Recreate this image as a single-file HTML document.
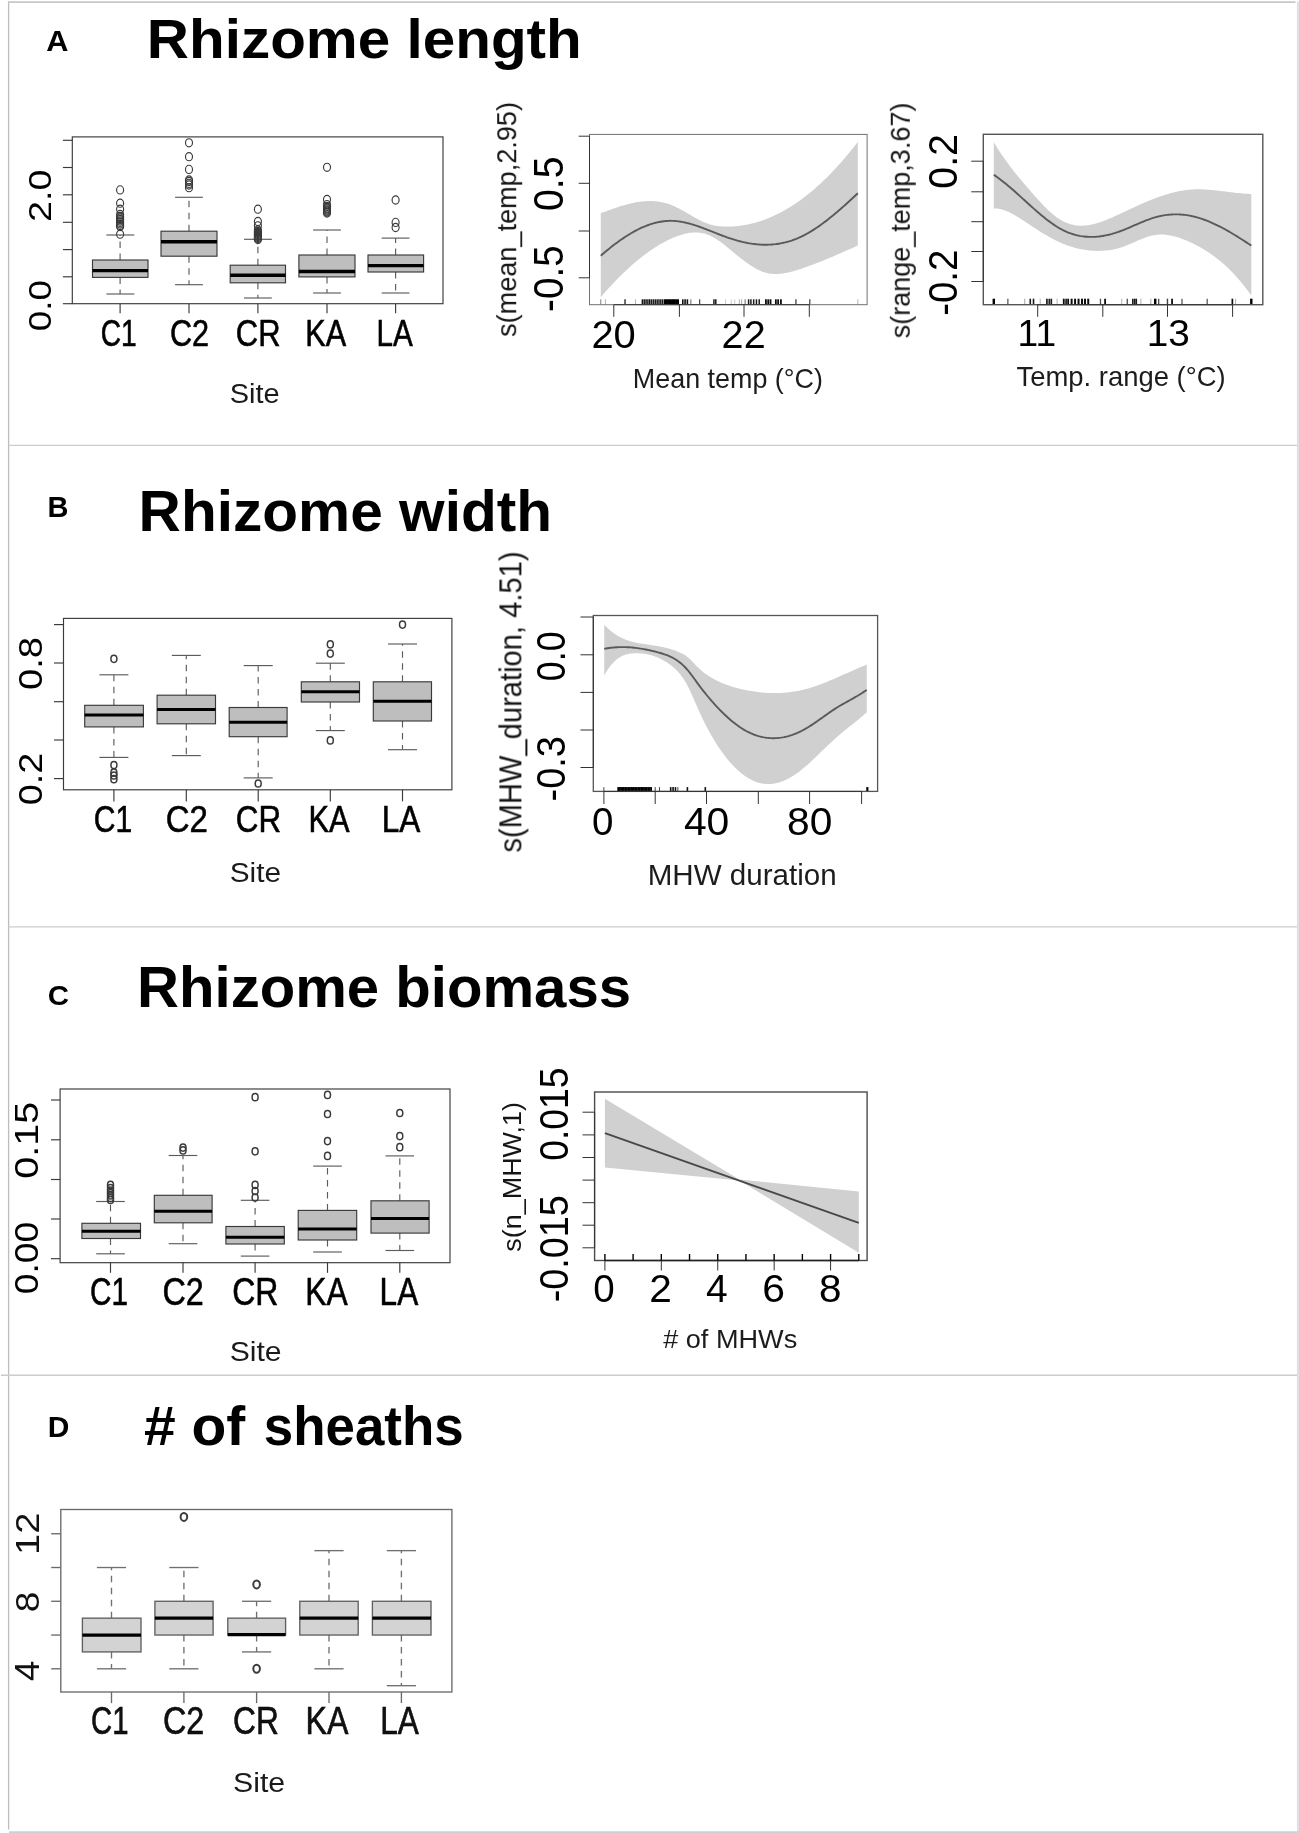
<!DOCTYPE html>
<html><head><meta charset="utf-8"><title>Figure</title>
<style>html,body{margin:0;padding:0;background:#fff}svg{display:block}text{font-family:"Liberation Sans",sans-serif}</style></head><body>
<svg width="1299" height="1833" viewBox="0 0 1299 1833">
<rect width="1299" height="1833" fill="#fff"/>
<g id="borders">
<line x1="8.6" y1="1.2" x2="8.6" y2="1829.5" stroke="#bdbdbd" stroke-width="1.3"/>
<line x1="8" y1="2.1" x2="1295.5" y2="2.1" stroke="#c8c8c8" stroke-width="1.7"/>
<line x1="1298" y1="1.5" x2="1298" y2="1833" stroke="#e0e0e0" stroke-width="2.2"/>
<line x1="9" y1="1832.2" x2="1299" y2="1832.2" stroke="#d0d0d0" stroke-width="1.8"/>
<line x1="8.6" y1="445.3" x2="1297" y2="445.3" stroke="#cccccc" stroke-width="1.3"/>
<line x1="8.6" y1="926.8" x2="1297" y2="926.8" stroke="#cccccc" stroke-width="1.3"/>
<line x1="1" y1="1375.2" x2="1297" y2="1375.2" stroke="#cccccc" stroke-width="1.4"/>
</g>
<g id="titles" style="filter:blur(0.35px)">
<text transform="translate(46.33,50.8) scale(1.0151,1)" font-size="30.29" font-weight="bold" fill="#000">A</text>
<text transform="translate(47.41,517) scale(0.9766,1)" font-size="29.71" font-weight="bold" fill="#000">B</text>
<text transform="translate(47.82,1004.5) scale(1.0566,1)" font-size="27.89" font-weight="bold" fill="#000">C</text>
<text transform="translate(47.66,1437.3) scale(1.0169,1)" font-size="29.42" font-weight="bold" fill="#000">D</text>
<text transform="translate(146.8,58.4) scale(1.0366,1)" font-size="56.38" font-weight="bold" fill="#000">Rhizome length</text>
<text transform="translate(138.59,530.9) scale(1.0187,1)" font-size="57.54" font-weight="bold" fill="#000">Rhizome width</text>
<text transform="translate(137.12,1007.1) scale(1.0254,1)" font-size="56.67" font-weight="bold" fill="#000">Rhizome biomass</text>
<text transform="translate(144.05,1444.7) scale(1.0273,1)" font-size="55.43" font-weight="bold" fill="#000"># of</text>
<text transform="translate(263.85,1444.7) scale(0.9539,1)" font-size="55.43" font-weight="bold" fill="#000">sheaths</text>
</g>
<g style="filter:blur(0.6px)">
<rect x="72.3" y="136.9" width="370.7" height="166.8" fill="none" stroke="#3a3a3a" stroke-width="1.15"/>
<line x1="62.9" y1="140.3" x2="72.3" y2="140.3" stroke="#3a3a3a" stroke-width="1.15"/>
<line x1="62.9" y1="167.5" x2="72.3" y2="167.5" stroke="#3a3a3a" stroke-width="1.15"/>
<line x1="62.9" y1="194.8" x2="72.3" y2="194.8" stroke="#3a3a3a" stroke-width="1.15"/>
<line x1="62.9" y1="222.3" x2="72.3" y2="222.3" stroke="#3a3a3a" stroke-width="1.15"/>
<line x1="62.9" y1="249.6" x2="72.3" y2="249.6" stroke="#3a3a3a" stroke-width="1.15"/>
<line x1="62.9" y1="276.8" x2="72.3" y2="276.8" stroke="#3a3a3a" stroke-width="1.15"/>
<line x1="62.9" y1="303.7" x2="72.3" y2="303.7" stroke="#3a3a3a" stroke-width="1.15"/>
<line x1="120.1" y1="303.7" x2="120.1" y2="313.2" stroke="#3a3a3a" stroke-width="1.15"/>
<line x1="189" y1="303.7" x2="189" y2="313.2" stroke="#3a3a3a" stroke-width="1.15"/>
<line x1="257.9" y1="303.7" x2="257.9" y2="313.2" stroke="#3a3a3a" stroke-width="1.15"/>
<line x1="327" y1="303.7" x2="327" y2="313.2" stroke="#3a3a3a" stroke-width="1.15"/>
<line x1="395.6" y1="303.7" x2="395.6" y2="313.2" stroke="#3a3a3a" stroke-width="1.15"/>
<line x1="120.1" y1="260" x2="120.1" y2="235" stroke="#5c5c5c" stroke-width="1.15" stroke-dasharray="6.5,5.5"/>
<line x1="120.1" y1="277.4" x2="120.1" y2="294" stroke="#5c5c5c" stroke-width="1.15" stroke-dasharray="6.5,5.5"/>
<line x1="106.4" y1="235" x2="134.3" y2="235" stroke="#5c5c5c" stroke-width="1.15"/>
<line x1="106.4" y1="294" x2="134.3" y2="294" stroke="#5c5c5c" stroke-width="1.15"/>
<rect x="92.5" y="260" width="55.5" height="17.4" fill="#bebebe" stroke="#3a3a3a" stroke-width="1.15"/>
<line x1="92.5" y1="270.6" x2="148" y2="270.6" stroke="#000" stroke-width="3.4"/>
<ellipse cx="120.1" cy="189.9" rx="3.5" ry="4.1" fill="none" stroke="#3a3a3a" stroke-width="1.15"/>
<ellipse cx="120.1" cy="203.2" rx="3.5" ry="4.1" fill="none" stroke="#3a3a3a" stroke-width="1.15"/>
<ellipse cx="120.1" cy="209.2" rx="3.5" ry="4.1" fill="none" stroke="#3a3a3a" stroke-width="1.15"/>
<ellipse cx="120.1" cy="214.5" rx="3.5" ry="4.1" fill="none" stroke="#3a3a3a" stroke-width="1.15"/>
<ellipse cx="120.1" cy="216.5" rx="3.5" ry="4.1" fill="none" stroke="#3a3a3a" stroke-width="1.15"/>
<ellipse cx="120.1" cy="218" rx="3.5" ry="4.1" fill="none" stroke="#3a3a3a" stroke-width="1.15"/>
<ellipse cx="120.1" cy="219.5" rx="3.5" ry="4.1" fill="none" stroke="#3a3a3a" stroke-width="1.15"/>
<ellipse cx="120.1" cy="221" rx="3.5" ry="4.1" fill="none" stroke="#3a3a3a" stroke-width="1.15"/>
<ellipse cx="120.1" cy="222.4" rx="3.5" ry="4.1" fill="none" stroke="#3a3a3a" stroke-width="1.15"/>
<ellipse cx="120.1" cy="224" rx="3.5" ry="4.1" fill="none" stroke="#3a3a3a" stroke-width="1.15"/>
<ellipse cx="120.1" cy="225.5" rx="3.5" ry="4.1" fill="none" stroke="#3a3a3a" stroke-width="1.15"/>
<ellipse cx="120.1" cy="226.6" rx="3.5" ry="4.1" fill="none" stroke="#3a3a3a" stroke-width="1.15"/>
<ellipse cx="120.1" cy="234.2" rx="3.5" ry="4.1" fill="none" stroke="#3a3a3a" stroke-width="1.15"/>
<line x1="189" y1="231.2" x2="189" y2="197.3" stroke="#5c5c5c" stroke-width="1.15" stroke-dasharray="6.5,5.5"/>
<line x1="189" y1="256.2" x2="189" y2="284.7" stroke="#5c5c5c" stroke-width="1.15" stroke-dasharray="6.5,5.5"/>
<line x1="175.1" y1="197.3" x2="202.9" y2="197.3" stroke="#5c5c5c" stroke-width="1.15"/>
<line x1="175.1" y1="284.7" x2="202.9" y2="284.7" stroke="#5c5c5c" stroke-width="1.15"/>
<rect x="161" y="231.2" width="56" height="25" fill="#bebebe" stroke="#3a3a3a" stroke-width="1.15"/>
<line x1="161" y1="241.8" x2="217" y2="241.8" stroke="#000" stroke-width="3.4"/>
<ellipse cx="189" cy="142.8" rx="3.5" ry="4.1" fill="none" stroke="#3a3a3a" stroke-width="1.15"/>
<ellipse cx="189" cy="156.7" rx="3.5" ry="4.1" fill="none" stroke="#3a3a3a" stroke-width="1.15"/>
<ellipse cx="189" cy="169.4" rx="3.5" ry="4.1" fill="none" stroke="#3a3a3a" stroke-width="1.15"/>
<ellipse cx="189" cy="180" rx="3.5" ry="4.1" fill="none" stroke="#3a3a3a" stroke-width="1.15"/>
<ellipse cx="189" cy="181.5" rx="3.5" ry="4.1" fill="none" stroke="#3a3a3a" stroke-width="1.15"/>
<ellipse cx="189" cy="183.4" rx="3.5" ry="4.1" fill="none" stroke="#3a3a3a" stroke-width="1.15"/>
<ellipse cx="189" cy="185" rx="3.5" ry="4.1" fill="none" stroke="#3a3a3a" stroke-width="1.15"/>
<ellipse cx="189" cy="187.7" rx="3.5" ry="4.1" fill="none" stroke="#3a3a3a" stroke-width="1.15"/>
<line x1="257.9" y1="265.2" x2="257.9" y2="239.3" stroke="#5c5c5c" stroke-width="1.15" stroke-dasharray="6.5,5.5"/>
<line x1="257.9" y1="282.8" x2="257.9" y2="298" stroke="#5c5c5c" stroke-width="1.15" stroke-dasharray="6.5,5.5"/>
<line x1="244" y1="239.3" x2="271.8" y2="239.3" stroke="#5c5c5c" stroke-width="1.15"/>
<line x1="244" y1="298" x2="271.8" y2="298" stroke="#5c5c5c" stroke-width="1.15"/>
<rect x="230.2" y="265.2" width="55.3" height="17.6" fill="#bebebe" stroke="#3a3a3a" stroke-width="1.15"/>
<line x1="230.2" y1="275.2" x2="285.5" y2="275.2" stroke="#000" stroke-width="3.4"/>
<ellipse cx="257.9" cy="209.2" rx="3.5" ry="4.1" fill="none" stroke="#3a3a3a" stroke-width="1.15"/>
<ellipse cx="257.9" cy="221.5" rx="3.5" ry="4.1" fill="none" stroke="#3a3a3a" stroke-width="1.15"/>
<ellipse cx="257.9" cy="225.8" rx="3.5" ry="4.1" fill="none" stroke="#3a3a3a" stroke-width="1.15"/>
<ellipse cx="257.9" cy="230" rx="3.5" ry="4.1" fill="none" stroke="#3a3a3a" stroke-width="1.15"/>
<ellipse cx="257.9" cy="231.5" rx="3.5" ry="4.1" fill="none" stroke="#3a3a3a" stroke-width="1.15"/>
<ellipse cx="257.9" cy="232.5" rx="3.5" ry="4.1" fill="none" stroke="#3a3a3a" stroke-width="1.15"/>
<ellipse cx="257.9" cy="233.5" rx="3.5" ry="4.1" fill="none" stroke="#3a3a3a" stroke-width="1.15"/>
<ellipse cx="257.9" cy="234.5" rx="3.5" ry="4.1" fill="none" stroke="#3a3a3a" stroke-width="1.15"/>
<ellipse cx="257.9" cy="235.5" rx="3.5" ry="4.1" fill="none" stroke="#3a3a3a" stroke-width="1.15"/>
<ellipse cx="257.9" cy="236.5" rx="3.5" ry="4.1" fill="none" stroke="#3a3a3a" stroke-width="1.15"/>
<ellipse cx="257.9" cy="237.5" rx="3.5" ry="4.1" fill="none" stroke="#3a3a3a" stroke-width="1.15"/>
<ellipse cx="257.9" cy="238.5" rx="3.5" ry="4.1" fill="none" stroke="#3a3a3a" stroke-width="1.15"/>
<ellipse cx="257.9" cy="239.5" rx="3.5" ry="4.1" fill="none" stroke="#3a3a3a" stroke-width="1.15"/>
<line x1="327" y1="255" x2="327" y2="230" stroke="#5c5c5c" stroke-width="1.15" stroke-dasharray="6.5,5.5"/>
<line x1="327" y1="276.9" x2="327" y2="293" stroke="#5c5c5c" stroke-width="1.15" stroke-dasharray="6.5,5.5"/>
<line x1="313.1" y1="230" x2="340.9" y2="230" stroke="#5c5c5c" stroke-width="1.15"/>
<line x1="313.1" y1="293" x2="340.9" y2="293" stroke="#5c5c5c" stroke-width="1.15"/>
<rect x="298.9" y="255" width="56.1" height="21.9" fill="#bebebe" stroke="#3a3a3a" stroke-width="1.15"/>
<line x1="298.9" y1="271.5" x2="355" y2="271.5" stroke="#000" stroke-width="3.4"/>
<ellipse cx="327" cy="167.3" rx="3.5" ry="4.1" fill="none" stroke="#3a3a3a" stroke-width="1.15"/>
<ellipse cx="327" cy="199.5" rx="3.5" ry="4.1" fill="none" stroke="#3a3a3a" stroke-width="1.15"/>
<ellipse cx="327" cy="204.6" rx="3.5" ry="4.1" fill="none" stroke="#3a3a3a" stroke-width="1.15"/>
<ellipse cx="327" cy="206.5" rx="3.5" ry="4.1" fill="none" stroke="#3a3a3a" stroke-width="1.15"/>
<ellipse cx="327" cy="208" rx="3.5" ry="4.1" fill="none" stroke="#3a3a3a" stroke-width="1.15"/>
<ellipse cx="327" cy="208.8" rx="3.5" ry="4.1" fill="none" stroke="#3a3a3a" stroke-width="1.15"/>
<ellipse cx="327" cy="210" rx="3.5" ry="4.1" fill="none" stroke="#3a3a3a" stroke-width="1.15"/>
<ellipse cx="327" cy="211" rx="3.5" ry="4.1" fill="none" stroke="#3a3a3a" stroke-width="1.15"/>
<ellipse cx="327" cy="212" rx="3.5" ry="4.1" fill="none" stroke="#3a3a3a" stroke-width="1.15"/>
<ellipse cx="327" cy="213" rx="3.5" ry="4.1" fill="none" stroke="#3a3a3a" stroke-width="1.15"/>
<line x1="395.6" y1="255" x2="395.6" y2="238.1" stroke="#5c5c5c" stroke-width="1.15" stroke-dasharray="6.5,5.5"/>
<line x1="395.6" y1="272" x2="395.6" y2="293" stroke="#5c5c5c" stroke-width="1.15" stroke-dasharray="6.5,5.5"/>
<line x1="381.7" y1="238.1" x2="409.5" y2="238.1" stroke="#5c5c5c" stroke-width="1.15"/>
<line x1="381.7" y1="293" x2="409.5" y2="293" stroke="#5c5c5c" stroke-width="1.15"/>
<rect x="368" y="255" width="55.6" height="17" fill="#bebebe" stroke="#3a3a3a" stroke-width="1.15"/>
<line x1="368" y1="265.6" x2="423.6" y2="265.6" stroke="#000" stroke-width="3.4"/>
<ellipse cx="395.6" cy="200" rx="3.5" ry="4.1" fill="none" stroke="#3a3a3a" stroke-width="1.15"/>
<ellipse cx="395.6" cy="222.4" rx="3.5" ry="4.1" fill="none" stroke="#3a3a3a" stroke-width="1.15"/>
<ellipse cx="395.6" cy="227.5" rx="3.5" ry="4.1" fill="none" stroke="#3a3a3a" stroke-width="1.15"/>
<text transform="translate(50.9,221.89) rotate(-90) scale(1.1942,1)" font-size="31.57" fill="#000">2.0</text>
<text transform="translate(50.9,331.17) rotate(-90) scale(1.1634,1)" font-size="31.57" fill="#000">0.0</text>
<text transform="translate(100.79,345.7) scale(0.7663,1)" font-size="36.71" fill="#000" stroke="#000" stroke-width="0.55" vector-effect="non-scaling-stroke">C1</text>
<text transform="translate(169.97,345.7) scale(0.8345,1)" font-size="36.71" fill="#000" stroke="#000" stroke-width="0.55" vector-effect="non-scaling-stroke">C2</text>
<text transform="translate(235.85,345.7) scale(0.8424,1)" font-size="36.71" fill="#000" stroke="#000" stroke-width="0.55" vector-effect="non-scaling-stroke">CR</text>
<text transform="translate(305.35,345.7) scale(0.8346,1)" font-size="36.71" fill="#000" stroke="#000" stroke-width="0.55" vector-effect="non-scaling-stroke">KA</text>
<text transform="translate(376.43,345.7) scale(0.8076,1)" font-size="36.71" fill="#000" stroke="#000" stroke-width="0.55" vector-effect="non-scaling-stroke">LA</text>
</g>
<text transform="translate(229.7,403.1) scale(1.0497,1)" font-size="27.59" fill="#1a1a1a" style="filter:blur(0.4px)">Site</text>
<g style="filter:blur(0.5px)">
<polygon points="600.79,213.2 602.4,212.6 604.02,211.99 605.64,211.4 607.25,210.8 608.87,210.21 610.48,209.63 612.1,209.06 613.72,208.5 615.33,207.94 616.95,207.4 618.57,206.87 620.18,206.36 621.8,205.86 623.42,205.38 625.03,204.92 626.65,204.48 628.27,204.06 629.88,203.66 631.5,203.28 633.12,202.93 634.73,202.6 636.35,202.3 637.97,202.03 639.58,201.79 641.2,201.59 642.82,201.41 644.43,201.27 646.05,201.16 647.67,201.08 649.28,201.05 650.9,201.05 652.52,201.1 654.13,201.18 655.75,201.31 657.37,201.48 658.98,201.7 660.6,201.96 662.22,202.27 663.83,202.63 665.45,203.04 667.07,203.5 668.68,204.01 670.3,204.58 671.92,205.2 673.53,205.88 675.15,206.61 676.77,207.38 678.38,208.2 680,209.06 681.62,209.94 683.23,210.85 684.85,211.78 686.47,212.72 688.08,213.67 689.7,214.62 691.32,215.57 692.93,216.51 694.55,217.43 696.17,218.34 697.78,219.21 699.4,220.06 701.02,220.86 702.63,221.63 704.25,222.34 705.87,223 707.48,223.6 709.1,224.13 710.72,224.61 712.33,225.03 713.95,225.39 715.57,225.7 717.18,225.96 718.8,226.17 720.42,226.34 722.03,226.47 723.65,226.56 725.27,226.61 726.88,226.62 728.5,226.61 730.12,226.57 731.73,226.51 733.35,226.41 734.97,226.3 736.58,226.16 738.2,225.99 739.82,225.79 741.43,225.58 743.05,225.33 744.67,225.06 746.28,224.77 747.9,224.45 749.52,224.1 751.13,223.73 752.75,223.34 754.36,222.92 755.98,222.47 757.6,222 759.21,221.5 760.83,220.97 762.45,220.42 764.06,219.85 765.68,219.25 767.3,218.62 768.91,217.97 770.53,217.29 772.15,216.58 773.76,215.85 775.38,215.1 777,214.32 778.61,213.51 780.23,212.68 781.85,211.82 783.46,210.93 785.08,210.02 786.7,209.08 788.31,208.12 789.93,207.13 791.55,206.12 793.16,205.08 794.78,204.01 796.4,202.92 798.01,201.8 799.63,200.65 801.25,199.48 802.86,198.28 804.48,197.06 806.1,195.81 807.71,194.53 809.33,193.23 810.95,191.9 812.56,190.55 814.18,189.17 815.8,187.76 817.41,186.33 819.03,184.87 820.65,183.38 822.26,181.87 823.88,180.33 825.5,178.76 827.11,177.17 828.73,175.55 830.35,173.91 831.96,172.23 833.58,170.54 835.2,168.81 836.81,167.06 838.43,165.28 840.05,163.48 841.66,161.65 843.28,159.79 844.9,157.9 846.51,155.99 848.13,154.06 849.75,152.09 851.36,150.1 852.98,148.08 854.6,146.04 856.21,143.96 857.83,141.87 857.83,245.55 856.21,246.27 854.6,246.99 852.98,247.71 851.36,248.43 849.75,249.15 848.13,249.86 846.51,250.58 844.9,251.29 843.28,252 841.66,252.71 840.05,253.42 838.43,254.12 836.81,254.82 835.2,255.52 833.58,256.21 831.96,256.9 830.35,257.58 828.73,258.25 827.11,258.93 825.5,259.59 823.88,260.25 822.26,260.91 820.65,261.55 819.03,262.19 817.41,262.82 815.8,263.45 814.18,264.07 812.56,264.68 810.95,265.28 809.33,265.87 807.71,266.45 806.1,267.02 804.48,267.58 802.86,268.14 801.25,268.68 799.63,269.21 798.01,269.73 796.4,270.24 794.78,270.73 793.16,271.19 791.55,271.64 789.93,272.05 788.31,272.44 786.7,272.79 785.08,273.1 783.46,273.38 781.85,273.61 780.23,273.79 778.61,273.92 777,273.99 775.38,274.01 773.76,273.97 772.15,273.86 770.53,273.68 768.91,273.44 767.3,273.11 765.68,272.72 764.06,272.23 762.45,271.67 760.83,271.03 759.21,270.32 757.6,269.54 755.98,268.69 754.36,267.78 752.75,266.81 751.13,265.8 749.52,264.73 747.9,263.61 746.28,262.46 744.67,261.27 743.05,260.04 741.43,258.79 739.82,257.51 738.2,256.21 736.58,254.9 734.97,253.57 733.35,252.23 731.73,250.89 730.12,249.55 728.5,248.21 726.88,246.89 725.27,245.58 723.65,244.3 722.03,243.06 720.42,241.86 718.8,240.72 717.18,239.64 715.57,238.62 713.95,237.67 712.33,236.79 710.72,235.99 709.1,235.26 707.48,234.63 705.87,234.07 704.25,233.61 702.63,233.22 701.02,232.92 699.4,232.7 697.78,232.55 696.17,232.47 694.55,232.47 692.93,232.53 691.32,232.66 689.7,232.85 688.08,233.1 686.47,233.41 684.85,233.77 683.23,234.18 681.62,234.64 680,235.15 678.38,235.7 676.77,236.3 675.15,236.93 673.53,237.6 671.92,238.3 670.3,239.04 668.68,239.8 667.07,240.6 665.45,241.43 663.83,242.28 662.22,243.17 660.6,244.09 658.98,245.04 657.37,246.02 655.75,247.02 654.13,248.06 652.52,249.13 650.9,250.22 649.28,251.34 647.67,252.49 646.05,253.67 644.43,254.88 642.82,256.12 641.2,257.38 639.58,258.67 637.97,259.98 636.35,261.33 634.73,262.7 633.12,264.09 631.5,265.51 629.88,266.96 628.27,268.43 626.65,269.93 625.03,271.46 623.42,273 621.8,274.58 620.18,276.17 618.57,277.8 616.95,279.44 615.33,281.11 613.72,282.8 612.1,284.52 610.48,286.26 608.87,288.02 607.25,289.81 605.64,291.62 604.02,293.45 602.4,295.3 600.79,297.17" fill="#d0d0d0"/>
<polyline points="600.79,255.73 602.4,254.33 604.02,252.95 605.64,251.58 607.25,250.24 608.87,248.92 610.48,247.62 612.1,246.34 613.72,245.09 615.33,243.86 616.95,242.65 618.57,241.47 620.18,240.32 621.8,239.19 623.42,238.09 625.03,237.02 626.65,235.97 628.27,234.96 629.88,233.97 631.5,233.01 633.12,232.09 634.73,231.19 636.35,230.33 637.97,229.5 639.58,228.71 641.2,227.95 642.82,227.22 644.43,226.53 646.05,225.88 647.67,225.26 649.28,224.68 650.9,224.13 652.52,223.63 654.13,223.17 655.75,222.74 657.37,222.36 658.98,222.01 660.6,221.71 662.22,221.45 663.83,221.24 665.45,221.07 667.07,220.94 668.68,220.86 670.3,220.82 671.92,220.83 673.53,220.89 675.15,220.99 676.77,221.14 678.38,221.32 680,221.55 681.62,221.82 683.23,222.13 684.85,222.46 686.47,222.84 688.08,223.24 689.7,223.67 691.32,224.13 692.93,224.61 694.55,225.12 696.17,225.65 697.78,226.2 699.4,226.76 701.02,227.34 702.63,227.94 704.25,228.55 705.87,229.17 707.48,229.79 709.1,230.43 710.72,231.07 712.33,231.71 713.95,232.35 715.57,232.99 717.18,233.63 718.8,234.26 720.42,234.89 722.03,235.51 723.65,236.12 725.27,236.72 726.88,237.3 728.5,237.87 730.12,238.42 731.73,238.95 733.35,239.46 734.97,239.94 736.58,240.41 738.2,240.86 739.82,241.28 741.43,241.69 743.05,242.07 744.67,242.42 746.28,242.76 747.9,243.07 749.52,243.35 751.13,243.61 752.75,243.84 754.36,244.05 755.98,244.23 757.6,244.38 759.21,244.51 760.83,244.61 762.45,244.68 764.06,244.72 765.68,244.73 767.3,244.71 768.91,244.66 770.53,244.58 772.15,244.47 773.76,244.33 775.38,244.16 777,243.95 778.61,243.71 780.23,243.44 781.85,243.13 783.46,242.79 785.08,242.42 786.7,242.01 788.31,241.56 789.93,241.08 791.55,240.56 793.16,240 794.78,239.41 796.4,238.78 798.01,238.11 799.63,237.4 801.25,236.65 802.86,235.86 804.48,235.04 806.1,234.18 807.71,233.28 809.33,232.35 810.95,231.39 812.56,230.39 814.18,229.36 815.8,228.3 817.41,227.22 819.03,226.1 820.65,224.96 822.26,223.79 823.88,222.59 825.5,221.37 827.11,220.13 828.73,218.86 830.35,217.57 831.96,216.27 833.58,214.94 835.2,213.59 836.81,212.22 838.43,210.84 840.05,209.45 841.66,208.03 843.28,206.61 844.9,205.17 846.51,203.72 848.13,202.25 849.75,200.78 851.36,199.3 852.98,197.81 854.6,196.31 856.21,194.81 857.83,193.3" fill="none" stroke="#5a5a5a" stroke-width="1.9" stroke-linejoin="round"/>
<line x1="600.79" y1="299.3" x2="600.79" y2="304.7" stroke="#000" stroke-width="1" opacity="0.5"/>
<line x1="605.4" y1="299.3" x2="605.4" y2="304.7" stroke="#000" stroke-width="1" opacity="0.3"/>
<line x1="625.03" y1="299.3" x2="625.03" y2="304.7" stroke="#000" stroke-width="1.3" opacity="0.9"/>
<line x1="635.43" y1="299.3" x2="635.43" y2="304.7" stroke="#000" stroke-width="1" opacity="0.3"/>
<line x1="642.36" y1="299.3" x2="642.36" y2="304.7" stroke="#000" stroke-width="1.5" opacity="0.9"/>
<line x1="644.2" y1="299.3" x2="644.2" y2="304.7" stroke="#000" stroke-width="1.5" opacity="0.9"/>
<line x1="646.05" y1="299.3" x2="646.05" y2="304.7" stroke="#000" stroke-width="1.5" opacity="0.9"/>
<line x1="647.9" y1="299.3" x2="647.9" y2="304.7" stroke="#000" stroke-width="1.5" opacity="0.9"/>
<line x1="649.75" y1="299.3" x2="649.75" y2="304.7" stroke="#000" stroke-width="1.5" opacity="0.9"/>
<line x1="651.59" y1="299.3" x2="651.59" y2="304.7" stroke="#000" stroke-width="1.5" opacity="0.9"/>
<line x1="653.44" y1="299.3" x2="653.44" y2="304.7" stroke="#000" stroke-width="1.5" opacity="0.9"/>
<line x1="655.29" y1="299.3" x2="655.29" y2="304.7" stroke="#000" stroke-width="1.5" opacity="0.9"/>
<line x1="657.14" y1="299.3" x2="657.14" y2="304.7" stroke="#000" stroke-width="1.5" opacity="0.9"/>
<line x1="658.98" y1="299.3" x2="658.98" y2="304.7" stroke="#000" stroke-width="1.5" opacity="0.9"/>
<line x1="660.83" y1="299.3" x2="660.83" y2="304.7" stroke="#000" stroke-width="1.5" opacity="0.9"/>
<line x1="662.68" y1="299.3" x2="662.68" y2="304.7" stroke="#000" stroke-width="1.5" opacity="0.9"/>
<line x1="664.99" y1="299.3" x2="664.99" y2="304.7" stroke="#000" stroke-width="2.2" opacity="1"/>
<line x1="666.61" y1="299.3" x2="666.61" y2="304.7" stroke="#000" stroke-width="2.2" opacity="1"/>
<line x1="668.22" y1="299.3" x2="668.22" y2="304.7" stroke="#000" stroke-width="2.2" opacity="1"/>
<line x1="669.84" y1="299.3" x2="669.84" y2="304.7" stroke="#000" stroke-width="2.2" opacity="1"/>
<line x1="671.45" y1="299.3" x2="671.45" y2="304.7" stroke="#000" stroke-width="2.2" opacity="1"/>
<line x1="673.07" y1="299.3" x2="673.07" y2="304.7" stroke="#000" stroke-width="2.2" opacity="1"/>
<line x1="674.69" y1="299.3" x2="674.69" y2="304.7" stroke="#000" stroke-width="2.2" opacity="1"/>
<line x1="676.3" y1="299.3" x2="676.3" y2="304.7" stroke="#000" stroke-width="2.2" opacity="1"/>
<line x1="677.92" y1="299.3" x2="677.92" y2="304.7" stroke="#000" stroke-width="2.2" opacity="1"/>
<line x1="682.77" y1="299.3" x2="682.77" y2="304.7" stroke="#000" stroke-width="1.6" opacity="0.95"/>
<line x1="685.08" y1="299.3" x2="685.08" y2="304.7" stroke="#000" stroke-width="1.6" opacity="0.95"/>
<line x1="687.39" y1="299.3" x2="687.39" y2="304.7" stroke="#000" stroke-width="1.6" opacity="0.95"/>
<line x1="690.85" y1="299.3" x2="690.85" y2="304.7" stroke="#000" stroke-width="1" opacity="0.6"/>
<line x1="699.63" y1="299.3" x2="699.63" y2="304.7" stroke="#000" stroke-width="1.3" opacity="0.7"/>
<line x1="713.95" y1="299.3" x2="713.95" y2="304.7" stroke="#000" stroke-width="1.5" opacity="0.9"/>
<line x1="715.8" y1="299.3" x2="715.8" y2="304.7" stroke="#000" stroke-width="1.5" opacity="0.9"/>
<line x1="725.5" y1="299.3" x2="725.5" y2="304.7" stroke="#000" stroke-width="1" opacity="0.2"/>
<line x1="731.27" y1="299.3" x2="731.27" y2="304.7" stroke="#000" stroke-width="1" opacity="0.2"/>
<line x1="734.73" y1="299.3" x2="734.73" y2="304.7" stroke="#000" stroke-width="1" opacity="0.2"/>
<line x1="739.35" y1="299.3" x2="739.35" y2="304.7" stroke="#000" stroke-width="1" opacity="0.3"/>
<line x1="741.66" y1="299.3" x2="741.66" y2="304.7" stroke="#000" stroke-width="1" opacity="0.35"/>
<line x1="745.13" y1="299.3" x2="745.13" y2="304.7" stroke="#000" stroke-width="1" opacity="0.6"/>
<line x1="748.59" y1="299.3" x2="748.59" y2="304.7" stroke="#000" stroke-width="1.5" opacity="0.9"/>
<line x1="750.9" y1="299.3" x2="750.9" y2="304.7" stroke="#000" stroke-width="1.5" opacity="0.9"/>
<line x1="753.67" y1="299.3" x2="753.67" y2="304.7" stroke="#000" stroke-width="1.5" opacity="0.9"/>
<line x1="756.44" y1="299.3" x2="756.44" y2="304.7" stroke="#000" stroke-width="1.5" opacity="0.9"/>
<line x1="759.21" y1="299.3" x2="759.21" y2="304.7" stroke="#000" stroke-width="1.5" opacity="0.9"/>
<line x1="765.91" y1="299.3" x2="765.91" y2="304.7" stroke="#000" stroke-width="1.8" opacity="0.95"/>
<line x1="768.22" y1="299.3" x2="768.22" y2="304.7" stroke="#000" stroke-width="1.8" opacity="0.95"/>
<line x1="770.53" y1="299.3" x2="770.53" y2="304.7" stroke="#000" stroke-width="1.8" opacity="0.95"/>
<line x1="775.84" y1="299.3" x2="775.84" y2="304.7" stroke="#000" stroke-width="1.8" opacity="0.95"/>
<line x1="778.15" y1="299.3" x2="778.15" y2="304.7" stroke="#000" stroke-width="1.8" opacity="0.95"/>
<line x1="780.92" y1="299.3" x2="780.92" y2="304.7" stroke="#000" stroke-width="1.8" opacity="0.95"/>
<line x1="795.94" y1="299.3" x2="795.94" y2="304.7" stroke="#000" stroke-width="1.3" opacity="0.75"/>
<line x1="809.79" y1="299.3" x2="809.79" y2="304.7" stroke="#000" stroke-width="1.3" opacity="0.7"/>
<line x1="857.83" y1="299.3" x2="857.83" y2="304.7" stroke="#000" stroke-width="1" opacity="0.3"/>
<rect x="589.5" y="134.4" width="277.6" height="170.3" fill="none" stroke="#707070" stroke-width="1"/>
<line x1="589.5" y1="136.2" x2="589.5" y2="277.8" stroke="#333" stroke-width="1"/>
<line x1="578.7" y1="136.2" x2="589.5" y2="136.2" stroke="#333" stroke-width="1"/>
<line x1="578.7" y1="183.3" x2="589.5" y2="183.3" stroke="#333" stroke-width="1"/>
<line x1="578.7" y1="231" x2="589.5" y2="231" stroke="#333" stroke-width="1"/>
<line x1="578.7" y1="277.8" x2="589.5" y2="277.8" stroke="#333" stroke-width="1"/>
<line x1="613.8" y1="304.7" x2="809.3" y2="304.7" stroke="#333" stroke-width="1"/>
<line x1="613.8" y1="304.7" x2="613.8" y2="316.8" stroke="#333" stroke-width="1"/>
<line x1="679.4" y1="304.7" x2="679.4" y2="316.8" stroke="#333" stroke-width="1"/>
<line x1="744" y1="304.7" x2="744" y2="316.8" stroke="#333" stroke-width="1"/>
<line x1="809.3" y1="304.7" x2="809.3" y2="316.8" stroke="#333" stroke-width="1"/>
<text transform="translate(563,211.07) rotate(-90) scale(0.9248,1)" font-size="42.43" fill="#000">0.5</text>
<text transform="translate(563,311.94) rotate(-90) scale(0.9110,1)" font-size="42.43" fill="#000">-0.5</text>
<text transform="translate(516.2,336.91) rotate(-90) scale(0.9584,1)" font-size="28.29" fill="#151515">s(mean_temp,2.95)</text>
<text transform="translate(591.4,348) scale(1.0386,1)" font-size="38.42" fill="#000">20</text>
<text transform="translate(721.62,348) scale(1.0309,1)" font-size="38.42" fill="#000">22</text>
</g>
<text transform="translate(632.85,388.2) scale(0.9980,1)" font-size="26.96" fill="#1c1c1c" style="filter:blur(0.4px)">Mean temp (°C)</text>
<g style="filter:blur(0.5px)">
<polygon points="993.79,142.15 995.41,144.85 997.03,147.48 998.65,150.04 1000.27,152.52 1001.89,154.94 1003.5,157.31 1005.12,159.61 1006.74,161.86 1008.36,164.06 1009.98,166.22 1011.6,168.33 1013.22,170.4 1014.84,172.44 1016.46,174.44 1018.08,176.42 1019.7,178.37 1021.32,180.31 1022.94,182.22 1024.56,184.13 1026.18,186.02 1027.8,187.9 1029.42,189.79 1031.04,191.66 1032.66,193.53 1034.28,195.38 1035.9,197.21 1037.51,199.01 1039.13,200.79 1040.75,202.54 1042.37,204.25 1043.99,205.93 1045.61,207.55 1047.23,209.14 1048.85,210.66 1050.47,212.14 1052.09,213.55 1053.71,214.89 1055.33,216.17 1056.95,217.38 1058.57,218.51 1060.19,219.55 1061.81,220.52 1063.43,221.39 1065.05,222.17 1066.67,222.87 1068.29,223.49 1069.91,224.02 1071.53,224.47 1073.14,224.85 1074.76,225.15 1076.38,225.38 1078,225.54 1079.62,225.64 1081.24,225.67 1082.86,225.64 1084.48,225.55 1086.1,225.4 1087.72,225.2 1089.34,224.95 1090.96,224.65 1092.58,224.3 1094.2,223.91 1095.82,223.48 1097.44,223.01 1099.06,222.5 1100.68,221.96 1102.3,221.38 1103.92,220.78 1105.54,220.15 1107.15,219.5 1108.77,218.82 1110.39,218.13 1112.01,217.42 1113.63,216.69 1115.25,215.96 1116.87,215.21 1118.49,214.46 1120.11,213.71 1121.73,212.95 1123.35,212.19 1124.97,211.43 1126.59,210.68 1128.21,209.92 1129.83,209.17 1131.45,208.42 1133.07,207.67 1134.69,206.93 1136.31,206.19 1137.93,205.46 1139.55,204.74 1141.17,204.02 1142.78,203.31 1144.4,202.61 1146.02,201.92 1147.64,201.24 1149.26,200.57 1150.88,199.92 1152.5,199.27 1154.12,198.64 1155.74,198.03 1157.36,197.43 1158.98,196.84 1160.6,196.27 1162.22,195.72 1163.84,195.18 1165.46,194.66 1167.08,194.17 1168.7,193.69 1170.32,193.23 1171.94,192.8 1173.56,192.39 1175.18,192 1176.79,191.63 1178.41,191.29 1180.03,190.97 1181.65,190.68 1183.27,190.42 1184.89,190.18 1186.51,189.97 1188.13,189.79 1189.75,189.64 1191.37,189.52 1192.99,189.43 1194.61,189.37 1196.23,189.33 1197.85,189.32 1199.47,189.33 1201.09,189.36 1202.71,189.41 1204.33,189.48 1205.95,189.57 1207.57,189.68 1209.19,189.8 1210.8,189.93 1212.42,190.08 1214.04,190.24 1215.66,190.41 1217.28,190.59 1218.9,190.77 1220.52,190.96 1222.14,191.16 1223.76,191.36 1225.38,191.56 1227,191.76 1228.62,191.96 1230.24,192.16 1231.86,192.35 1233.48,192.54 1235.1,192.73 1236.72,192.9 1238.34,193.07 1239.96,193.23 1241.58,193.37 1243.2,193.51 1244.82,193.63 1246.43,193.73 1248.05,193.82 1249.67,193.89 1251.29,193.94 1251.29,295.57 1249.67,293.29 1248.05,291.06 1246.43,288.89 1244.82,286.78 1243.2,284.73 1241.58,282.73 1239.96,280.78 1238.34,278.89 1236.72,277.05 1235.1,275.26 1233.48,273.52 1231.86,271.83 1230.24,270.19 1228.62,268.6 1227,267.05 1225.38,265.55 1223.76,264.09 1222.14,262.68 1220.52,261.31 1218.9,259.98 1217.28,258.69 1215.66,257.44 1214.04,256.23 1212.42,255.06 1210.8,253.92 1209.19,252.82 1207.57,251.75 1205.95,250.72 1204.33,249.72 1202.71,248.75 1201.09,247.81 1199.47,246.91 1197.85,246.03 1196.23,245.18 1194.61,244.35 1192.99,243.56 1191.37,242.78 1189.75,242.03 1188.13,241.31 1186.51,240.61 1184.89,239.93 1183.27,239.29 1181.65,238.67 1180.03,238.09 1178.41,237.54 1176.79,237.04 1175.18,236.57 1173.56,236.14 1171.94,235.76 1170.32,235.43 1168.7,235.14 1167.08,234.91 1165.46,234.73 1163.84,234.61 1162.22,234.54 1160.6,234.53 1158.98,234.59 1157.36,234.71 1155.74,234.9 1154.12,235.15 1152.5,235.48 1150.88,235.87 1149.26,236.31 1147.64,236.81 1146.02,237.35 1144.4,237.93 1142.78,238.55 1141.17,239.2 1139.55,239.87 1137.93,240.56 1136.31,241.26 1134.69,241.97 1133.07,242.69 1131.45,243.4 1129.83,244.1 1128.21,244.78 1126.59,245.45 1124.97,246.09 1123.35,246.7 1121.73,247.27 1120.11,247.8 1118.49,248.29 1116.87,248.72 1115.25,249.12 1113.63,249.47 1112.01,249.77 1110.39,250.04 1108.77,250.27 1107.15,250.46 1105.54,250.61 1103.92,250.73 1102.3,250.82 1100.68,250.87 1099.06,250.89 1097.44,250.88 1095.82,250.85 1094.2,250.78 1092.58,250.69 1090.96,250.57 1089.34,250.42 1087.72,250.24 1086.1,250.04 1084.48,249.8 1082.86,249.53 1081.24,249.24 1079.62,248.91 1078,248.55 1076.38,248.16 1074.76,247.74 1073.14,247.29 1071.53,246.81 1069.91,246.29 1068.29,245.74 1066.67,245.16 1065.05,244.55 1063.43,243.91 1061.81,243.23 1060.19,242.51 1058.57,241.77 1056.95,240.99 1055.33,240.19 1053.71,239.36 1052.09,238.5 1050.47,237.62 1048.85,236.72 1047.23,235.79 1045.61,234.84 1043.99,233.88 1042.37,232.89 1040.75,231.89 1039.13,230.88 1037.51,229.85 1035.9,228.81 1034.28,227.76 1032.66,226.7 1031.04,225.64 1029.42,224.56 1027.8,223.49 1026.18,222.41 1024.56,221.33 1022.94,220.26 1021.32,219.2 1019.7,218.16 1018.08,217.14 1016.46,216.15 1014.84,215.2 1013.22,214.29 1011.6,213.43 1009.98,212.61 1008.36,211.85 1006.74,211.16 1005.12,210.53 1003.5,209.97 1001.89,209.5 1000.27,209.11 998.65,208.8 997.03,208.6 995.41,208.49 993.79,208.49" fill="#d0d0d0"/>
<polyline points="993.79,174.8 995.41,175.89 997.03,177.03 998.65,178.2 1000.27,179.4 1001.89,180.64 1003.5,181.92 1005.12,183.22 1006.74,184.55 1008.36,185.9 1009.98,187.28 1011.6,188.68 1013.22,190.09 1014.84,191.52 1016.46,192.97 1018.08,194.42 1019.7,195.89 1021.32,197.36 1022.94,198.84 1024.56,200.31 1026.18,201.79 1027.8,203.26 1029.42,204.73 1031.04,206.2 1032.66,207.65 1034.28,209.09 1035.9,210.51 1037.51,211.92 1039.13,213.31 1040.75,214.68 1042.37,216.03 1043.99,217.35 1045.61,218.64 1047.23,219.9 1048.85,221.13 1050.47,222.33 1052.09,223.48 1053.71,224.6 1055.33,225.68 1056.95,226.71 1058.57,227.69 1060.19,228.63 1061.81,229.51 1063.43,230.35 1065.05,231.12 1066.67,231.85 1068.29,232.52 1069.91,233.14 1071.53,233.71 1073.14,234.23 1074.76,234.71 1076.38,235.13 1078,235.51 1079.62,235.84 1081.24,236.12 1082.86,236.36 1084.48,236.55 1086.1,236.71 1087.72,236.81 1089.34,236.88 1090.96,236.91 1092.58,236.89 1094.2,236.84 1095.82,236.75 1097.44,236.62 1099.06,236.45 1100.68,236.24 1102.3,236.01 1103.92,235.73 1105.54,235.42 1107.15,235.08 1108.77,234.71 1110.39,234.3 1112.01,233.87 1113.63,233.4 1115.25,232.91 1116.87,232.38 1118.49,231.83 1120.11,231.26 1121.73,230.65 1123.35,230.03 1124.97,229.38 1126.59,228.72 1128.21,228.04 1129.83,227.35 1131.45,226.65 1133.07,225.95 1134.69,225.24 1136.31,224.54 1137.93,223.84 1139.55,223.14 1141.17,222.46 1142.78,221.78 1144.4,221.12 1146.02,220.48 1147.64,219.86 1149.26,219.27 1150.88,218.7 1152.5,218.16 1154.12,217.65 1155.74,217.18 1157.36,216.74 1158.98,216.35 1160.6,215.98 1162.22,215.66 1163.84,215.37 1165.46,215.12 1167.08,214.9 1168.7,214.72 1170.32,214.58 1171.94,214.47 1173.56,214.4 1175.18,214.37 1176.79,214.37 1178.41,214.41 1180.03,214.48 1181.65,214.59 1183.27,214.73 1184.89,214.91 1186.51,215.13 1188.13,215.38 1189.75,215.67 1191.37,215.99 1192.99,216.34 1194.61,216.73 1196.23,217.16 1197.85,217.61 1199.47,218.1 1201.09,218.62 1202.71,219.16 1204.33,219.74 1205.95,220.34 1207.57,220.97 1209.19,221.63 1210.8,222.32 1212.42,223.03 1214.04,223.76 1215.66,224.52 1217.28,225.3 1218.9,226.1 1220.52,226.93 1222.14,227.77 1223.76,228.64 1225.38,229.52 1227,230.43 1228.62,231.35 1230.24,232.28 1231.86,233.24 1233.48,234.21 1235.1,235.19 1236.72,236.18 1238.34,237.19 1239.96,238.22 1241.58,239.25 1243.2,240.29 1244.82,241.35 1246.43,242.41 1248.05,243.48 1249.67,244.56 1251.29,245.65" fill="none" stroke="#5a5a5a" stroke-width="1.9" stroke-linejoin="round"/>
<line x1="993.79" y1="298.7" x2="993.79" y2="304.7" stroke="#000" stroke-width="2.4" opacity="1"/>
<line x1="1007.88" y1="298.7" x2="1007.88" y2="304.7" stroke="#000" stroke-width="1.2" opacity="0.7"/>
<line x1="1024.73" y1="298.7" x2="1024.73" y2="304.7" stroke="#000" stroke-width="1" opacity="0.35"/>
<line x1="1030.28" y1="298.7" x2="1030.28" y2="304.7" stroke="#000" stroke-width="1.6" opacity="0.9"/>
<line x1="1033.51" y1="298.7" x2="1033.51" y2="304.7" stroke="#000" stroke-width="1.6" opacity="0.9"/>
<line x1="1040.21" y1="298.7" x2="1040.21" y2="304.7" stroke="#000" stroke-width="1" opacity="0.3"/>
<line x1="1046.91" y1="298.7" x2="1046.91" y2="304.7" stroke="#000" stroke-width="1.7" opacity="0.9"/>
<line x1="1049.21" y1="298.7" x2="1049.21" y2="304.7" stroke="#000" stroke-width="1.5" opacity="0.9"/>
<line x1="1051.29" y1="298.7" x2="1051.29" y2="304.7" stroke="#000" stroke-width="1.7" opacity="0.9"/>
<line x1="1057.07" y1="298.7" x2="1057.07" y2="304.7" stroke="#000" stroke-width="1" opacity="0.3"/>
<line x1="1063.76" y1="298.7" x2="1063.76" y2="304.7" stroke="#000" stroke-width="1.8" opacity="0.95"/>
<line x1="1066.07" y1="298.7" x2="1066.07" y2="304.7" stroke="#000" stroke-width="1.6" opacity="0.95"/>
<line x1="1068.15" y1="298.7" x2="1068.15" y2="304.7" stroke="#000" stroke-width="1.8" opacity="0.95"/>
<line x1="1071.62" y1="298.7" x2="1071.62" y2="304.7" stroke="#000" stroke-width="2.0" opacity="0.95"/>
<line x1="1075.08" y1="298.7" x2="1075.08" y2="304.7" stroke="#000" stroke-width="2.0" opacity="0.95"/>
<line x1="1078.55" y1="298.7" x2="1078.55" y2="304.7" stroke="#000" stroke-width="2.0" opacity="0.95"/>
<line x1="1082.01" y1="298.7" x2="1082.01" y2="304.7" stroke="#000" stroke-width="2.0" opacity="0.95"/>
<line x1="1085.01" y1="298.7" x2="1085.01" y2="304.7" stroke="#000" stroke-width="2.0" opacity="0.95"/>
<line x1="1088.24" y1="298.7" x2="1088.24" y2="304.7" stroke="#000" stroke-width="2.0" opacity="0.95"/>
<line x1="1100.48" y1="298.7" x2="1100.48" y2="304.7" stroke="#000" stroke-width="1.3" opacity="0.7"/>
<line x1="1105.1" y1="298.7" x2="1105.1" y2="304.7" stroke="#000" stroke-width="1.8" opacity="0.95"/>
<line x1="1121.73" y1="298.7" x2="1121.73" y2="304.7" stroke="#000" stroke-width="1" opacity="0.3"/>
<line x1="1127.27" y1="298.7" x2="1127.27" y2="304.7" stroke="#000" stroke-width="1.3" opacity="0.7"/>
<line x1="1132.82" y1="298.7" x2="1132.82" y2="304.7" stroke="#000" stroke-width="1.6" opacity="0.9"/>
<line x1="1134.67" y1="298.7" x2="1134.67" y2="304.7" stroke="#000" stroke-width="1.5" opacity="0.9"/>
<line x1="1136.28" y1="298.7" x2="1136.28" y2="304.7" stroke="#000" stroke-width="1.6" opacity="0.9"/>
<line x1="1140.9" y1="298.7" x2="1140.9" y2="304.7" stroke="#000" stroke-width="1" opacity="0.3"/>
<line x1="1150.83" y1="298.7" x2="1150.83" y2="304.7" stroke="#000" stroke-width="1" opacity="0.35"/>
<line x1="1155.22" y1="298.7" x2="1155.22" y2="304.7" stroke="#000" stroke-width="2.4" opacity="1"/>
<line x1="1158.68" y1="298.7" x2="1158.68" y2="304.7" stroke="#000" stroke-width="1.3" opacity="0.7"/>
<line x1="1167.46" y1="298.7" x2="1167.46" y2="304.7" stroke="#000" stroke-width="1.4" opacity="0.75"/>
<line x1="1172.08" y1="298.7" x2="1172.08" y2="304.7" stroke="#000" stroke-width="1.8" opacity="0.95"/>
<line x1="1182.01" y1="298.7" x2="1182.01" y2="304.7" stroke="#000" stroke-width="1.2" opacity="0.7"/>
<line x1="1207.18" y1="298.7" x2="1207.18" y2="304.7" stroke="#000" stroke-width="1.2" opacity="0.7"/>
<line x1="1232.36" y1="298.7" x2="1232.36" y2="304.7" stroke="#000" stroke-width="1.7" opacity="0.95"/>
<line x1="1235.59" y1="298.7" x2="1235.59" y2="304.7" stroke="#000" stroke-width="1" opacity="0.3"/>
<line x1="1251.29" y1="298.7" x2="1251.29" y2="304.7" stroke="#000" stroke-width="2.4" opacity="1"/>
<rect x="983.3" y="134.3" width="279.5" height="170.4" fill="none" stroke="#555" stroke-width="1.4"/>
<line x1="983.3" y1="161.2" x2="983.3" y2="281.5" stroke="#333" stroke-width="1"/>
<line x1="971.3" y1="161.2" x2="983.3" y2="161.2" stroke="#333" stroke-width="1"/>
<line x1="971.3" y1="191.8" x2="983.3" y2="191.8" stroke="#333" stroke-width="1"/>
<line x1="971.3" y1="221.7" x2="983.3" y2="221.7" stroke="#333" stroke-width="1"/>
<line x1="971.3" y1="251.5" x2="983.3" y2="251.5" stroke="#333" stroke-width="1"/>
<line x1="971.3" y1="281.5" x2="983.3" y2="281.5" stroke="#333" stroke-width="1"/>
<line x1="1037.7" y1="304.7" x2="1232.6" y2="304.7" stroke="#333" stroke-width="1"/>
<line x1="1037.7" y1="304.7" x2="1037.7" y2="316.8" stroke="#333" stroke-width="1"/>
<line x1="1102.8" y1="304.7" x2="1102.8" y2="316.8" stroke="#333" stroke-width="1"/>
<line x1="1167.5" y1="304.7" x2="1167.5" y2="316.8" stroke="#333" stroke-width="1"/>
<line x1="1232.6" y1="304.7" x2="1232.6" y2="316.8" stroke="#333" stroke-width="1"/>
<text transform="translate(956.6,188.72) rotate(-90) scale(0.9455,1)" font-size="41.57" fill="#000">0.2</text>
<text transform="translate(956.6,315.83) rotate(-90) scale(0.9237,1)" font-size="41.57" fill="#000">-0.2</text>
<text transform="translate(909.8,338.31) rotate(-90) scale(0.9504,1)" font-size="28.43" fill="#151515">s(range_temp,3.67)</text>
<text transform="translate(1017.61,346.2) scale(0.9899,1)" font-size="37.54" fill="#000">11</text>
<text transform="translate(1146.79,346.4) scale(1.0405,1)" font-size="37.29" fill="#000">13</text>
</g>
<text transform="translate(1016.45,385.6) scale(0.9970,1)" font-size="27.54" fill="#1c1c1c" style="filter:blur(0.4px)">Temp. range (°C)</text>
<g style="filter:blur(0.6px)">
<rect x="63.5" y="618.4" width="388.4" height="171.4" fill="none" stroke="#3a3a3a" stroke-width="1.15"/>
<line x1="54" y1="624.6" x2="63.5" y2="624.6" stroke="#3a3a3a" stroke-width="1.15"/>
<line x1="54" y1="663" x2="63.5" y2="663" stroke="#3a3a3a" stroke-width="1.15"/>
<line x1="54" y1="701.7" x2="63.5" y2="701.7" stroke="#3a3a3a" stroke-width="1.15"/>
<line x1="54" y1="740" x2="63.5" y2="740" stroke="#3a3a3a" stroke-width="1.15"/>
<line x1="54" y1="778.6" x2="63.5" y2="778.6" stroke="#3a3a3a" stroke-width="1.15"/>
<line x1="113.9" y1="789.8" x2="113.9" y2="801.4" stroke="#3a3a3a" stroke-width="1.15"/>
<line x1="186.3" y1="789.8" x2="186.3" y2="801.4" stroke="#3a3a3a" stroke-width="1.15"/>
<line x1="258.2" y1="789.8" x2="258.2" y2="801.4" stroke="#3a3a3a" stroke-width="1.15"/>
<line x1="330.3" y1="789.8" x2="330.3" y2="801.4" stroke="#3a3a3a" stroke-width="1.15"/>
<line x1="402.5" y1="789.8" x2="402.5" y2="801.4" stroke="#3a3a3a" stroke-width="1.15"/>
<line x1="113.9" y1="705.3" x2="113.9" y2="674.8" stroke="#5c5c5c" stroke-width="1.15" stroke-dasharray="6.5,5.5"/>
<line x1="113.9" y1="726.9" x2="113.9" y2="757.4" stroke="#5c5c5c" stroke-width="1.15" stroke-dasharray="6.5,5.5"/>
<line x1="99.4" y1="674.8" x2="128.4" y2="674.8" stroke="#5c5c5c" stroke-width="1.15"/>
<line x1="99.4" y1="757.4" x2="128.4" y2="757.4" stroke="#5c5c5c" stroke-width="1.15"/>
<rect x="84.7" y="705.3" width="58.7" height="21.6" fill="#bebebe" stroke="#3a3a3a" stroke-width="1.15"/>
<line x1="84.7" y1="715.1" x2="143.4" y2="715.1" stroke="#000" stroke-width="3.0"/>
<ellipse cx="113.9" cy="658.8" rx="3.0" ry="3.6" fill="none" stroke="#3a3a3a" stroke-width="1.5"/>
<ellipse cx="113.9" cy="765" rx="3.0" ry="3.6" fill="none" stroke="#3a3a3a" stroke-width="1.5"/>
<ellipse cx="113.9" cy="772.7" rx="3.0" ry="3.6" fill="none" stroke="#3a3a3a" stroke-width="1.5"/>
<ellipse cx="113.9" cy="775.5" rx="3.0" ry="3.6" fill="none" stroke="#3a3a3a" stroke-width="1.5"/>
<ellipse cx="113.9" cy="779.2" rx="3.0" ry="3.6" fill="none" stroke="#3a3a3a" stroke-width="1.5"/>
<line x1="186.3" y1="695.2" x2="186.3" y2="655.4" stroke="#5c5c5c" stroke-width="1.15" stroke-dasharray="6.5,5.5"/>
<line x1="186.3" y1="723.8" x2="186.3" y2="755.6" stroke="#5c5c5c" stroke-width="1.15" stroke-dasharray="6.5,5.5"/>
<line x1="171.8" y1="655.4" x2="200.8" y2="655.4" stroke="#5c5c5c" stroke-width="1.15"/>
<line x1="171.8" y1="755.6" x2="200.8" y2="755.6" stroke="#5c5c5c" stroke-width="1.15"/>
<rect x="157.1" y="695.2" width="58.4" height="28.6" fill="#bebebe" stroke="#3a3a3a" stroke-width="1.15"/>
<line x1="157.1" y1="709.4" x2="215.5" y2="709.4" stroke="#000" stroke-width="3.0"/>
<line x1="258.2" y1="707.5" x2="258.2" y2="665.6" stroke="#5c5c5c" stroke-width="1.15" stroke-dasharray="6.5,5.5"/>
<line x1="258.2" y1="736.7" x2="258.2" y2="777.9" stroke="#5c5c5c" stroke-width="1.15" stroke-dasharray="6.5,5.5"/>
<line x1="243.7" y1="665.6" x2="272.7" y2="665.6" stroke="#5c5c5c" stroke-width="1.15"/>
<line x1="243.7" y1="777.9" x2="272.7" y2="777.9" stroke="#5c5c5c" stroke-width="1.15"/>
<rect x="229.2" y="707.5" width="57.9" height="29.2" fill="#bebebe" stroke="#3a3a3a" stroke-width="1.15"/>
<line x1="229.2" y1="722.3" x2="287.1" y2="722.3" stroke="#000" stroke-width="3.0"/>
<ellipse cx="258.2" cy="783.5" rx="3.0" ry="3.6" fill="none" stroke="#3a3a3a" stroke-width="1.5"/>
<line x1="330.3" y1="681.8" x2="330.3" y2="663.2" stroke="#5c5c5c" stroke-width="1.15" stroke-dasharray="6.5,5.5"/>
<line x1="330.3" y1="702" x2="330.3" y2="730.6" stroke="#5c5c5c" stroke-width="1.15" stroke-dasharray="6.5,5.5"/>
<line x1="315.8" y1="663.2" x2="344.8" y2="663.2" stroke="#5c5c5c" stroke-width="1.15"/>
<line x1="315.8" y1="730.6" x2="344.8" y2="730.6" stroke="#5c5c5c" stroke-width="1.15"/>
<rect x="301.3" y="681.8" width="58.2" height="20.2" fill="#bebebe" stroke="#3a3a3a" stroke-width="1.15"/>
<line x1="301.3" y1="691.8" x2="359.5" y2="691.8" stroke="#000" stroke-width="3.0"/>
<ellipse cx="330.3" cy="644.3" rx="3.0" ry="3.6" fill="none" stroke="#3a3a3a" stroke-width="1.5"/>
<ellipse cx="330.3" cy="653.6" rx="3.0" ry="3.6" fill="none" stroke="#3a3a3a" stroke-width="1.5"/>
<ellipse cx="330.3" cy="740.4" rx="3.0" ry="3.6" fill="none" stroke="#3a3a3a" stroke-width="1.5"/>
<line x1="402.5" y1="681.8" x2="402.5" y2="644" stroke="#5c5c5c" stroke-width="1.15" stroke-dasharray="6.5,5.5"/>
<line x1="402.5" y1="721" x2="402.5" y2="749.7" stroke="#5c5c5c" stroke-width="1.15" stroke-dasharray="6.5,5.5"/>
<line x1="388" y1="644" x2="417" y2="644" stroke="#5c5c5c" stroke-width="1.15"/>
<line x1="388" y1="749.7" x2="417" y2="749.7" stroke="#5c5c5c" stroke-width="1.15"/>
<rect x="373.3" y="681.8" width="58.2" height="39.2" fill="#bebebe" stroke="#3a3a3a" stroke-width="1.15"/>
<line x1="373.3" y1="701.2" x2="431.5" y2="701.2" stroke="#000" stroke-width="3.0"/>
<ellipse cx="402.5" cy="624.6" rx="3.0" ry="3.6" fill="none" stroke="#3a3a3a" stroke-width="1.5"/>
<text transform="translate(41.9,689.92) rotate(-90) scale(1.1644,1)" font-size="32.71" fill="#000">0.8</text>
<text transform="translate(41.9,805.31) rotate(-90) scale(1.1545,1)" font-size="32.71" fill="#000">0.2</text>
<text transform="translate(93.7,832.1) scale(0.8007,1)" font-size="37.57" fill="#000" stroke="#000" stroke-width="0.55" vector-effect="non-scaling-stroke">C1</text>
<text transform="translate(165.65,832.1) scale(0.8789,1)" font-size="37.57" fill="#000" stroke="#000" stroke-width="0.55" vector-effect="non-scaling-stroke">C2</text>
<text transform="translate(235.83,832.1) scale(0.8351,1)" font-size="37.57" fill="#000" stroke="#000" stroke-width="0.55" vector-effect="non-scaling-stroke">CR</text>
<text transform="translate(308.44,832.1) scale(0.8198,1)" font-size="37.57" fill="#000" stroke="#000" stroke-width="0.55" vector-effect="non-scaling-stroke">KA</text>
<text transform="translate(381.77,832.1) scale(0.8405,1)" font-size="37.57" fill="#000" stroke="#000" stroke-width="0.55" vector-effect="non-scaling-stroke">LA</text>
</g>
<text transform="translate(229.66,881.5) scale(1.0649,1)" font-size="28" fill="#1a1a1a" style="filter:blur(0.4px)">Site</text>
<g style="filter:blur(0.5px)">
<polygon points="604.24,624.65 605.89,626.39 607.54,628.01 609.19,629.53 610.84,630.94 612.49,632.25 614.14,633.47 615.8,634.59 617.45,635.63 619.1,636.58 620.75,637.45 622.4,638.25 624.05,638.99 625.7,639.65 627.35,640.26 629,640.81 630.65,641.31 632.31,641.76 633.96,642.18 635.61,642.55 637.26,642.89 638.91,643.21 640.56,643.49 642.21,643.77 643.86,644.02 645.51,644.27 647.16,644.51 648.82,644.75 650.47,644.99 652.12,645.23 653.77,645.48 655.42,645.74 657.07,646.02 658.72,646.3 660.37,646.61 662.02,646.94 663.67,647.29 665.33,647.66 666.98,648.07 668.63,648.5 670.28,648.97 671.93,649.48 673.58,650.03 675.23,650.62 676.88,651.25 678.53,651.93 680.19,652.66 681.84,653.45 683.49,654.3 685.14,655.26 686.79,656.39 688.44,657.72 690.09,659.24 691.74,660.9 693.39,662.65 695.04,664.42 696.7,666.16 698.35,667.82 700,669.37 701.65,670.81 703.3,672.16 704.95,673.42 706.6,674.59 708.25,675.7 709.9,676.74 711.55,677.72 713.21,678.65 714.86,679.53 716.51,680.38 718.16,681.19 719.81,681.96 721.46,682.69 723.11,683.38 724.76,684.05 726.41,684.68 728.06,685.27 729.72,685.84 731.37,686.38 733.02,686.89 734.67,687.38 736.32,687.84 737.97,688.28 739.62,688.69 741.27,689.09 742.92,689.46 744.58,689.82 746.23,690.16 747.88,690.48 749.53,690.79 751.18,691.07 752.83,691.34 754.48,691.59 756.13,691.82 757.78,692.04 759.43,692.23 761.09,692.41 762.74,692.56 764.39,692.7 766.04,692.81 767.69,692.91 769.34,692.99 770.99,693.04 772.64,693.08 774.29,693.09 775.94,693.09 777.6,693.06 779.25,693.01 780.9,692.94 782.55,692.84 784.2,692.73 785.85,692.59 787.5,692.43 789.15,692.25 790.8,692.04 792.46,691.81 794.11,691.56 795.76,691.28 797.41,690.98 799.06,690.66 800.71,690.31 802.36,689.94 804.01,689.54 805.66,689.12 807.31,688.67 808.97,688.2 810.62,687.71 812.27,687.19 813.92,686.66 815.57,686.1 817.22,685.53 818.87,684.93 820.52,684.33 822.17,683.7 823.82,683.06 825.48,682.41 827.13,681.74 828.78,681.06 830.43,680.37 832.08,679.68 833.73,678.97 835.38,678.25 837.03,677.53 838.68,676.81 840.33,676.08 841.99,675.34 843.64,674.6 845.29,673.86 846.94,673.13 848.59,672.39 850.24,671.65 851.89,670.91 853.54,670.18 855.19,669.46 856.85,668.74 858.5,668.02 860.15,667.32 861.8,666.62 863.45,665.93 865.1,665.25 866.75,664.59 866.75,712.4 865.1,713.86 863.45,715.29 861.8,716.7 860.15,718.08 858.5,719.43 856.85,720.78 855.19,722.11 853.54,723.43 851.89,724.74 850.24,726.05 848.59,727.37 846.94,728.69 845.29,730.02 843.64,731.36 841.99,732.72 840.33,734.1 838.68,735.5 837.03,736.93 835.38,738.39 833.73,739.88 832.08,741.4 830.43,742.94 828.78,744.5 827.13,746.08 825.48,747.67 823.82,749.27 822.17,750.87 820.52,752.47 818.87,754.07 817.22,755.67 815.57,757.25 813.92,758.82 812.27,760.37 810.62,761.9 808.97,763.4 807.31,764.88 805.66,766.32 804.01,767.72 802.36,769.09 800.71,770.41 799.06,771.68 797.41,772.9 795.76,774.06 794.11,775.17 792.46,776.22 790.8,777.22 789.15,778.15 787.5,779.02 785.85,779.82 784.2,780.56 782.55,781.24 780.9,781.85 779.25,782.38 777.6,782.85 775.94,783.24 774.29,783.56 772.64,783.81 770.99,783.98 769.34,784.07 767.69,784.08 766.04,784.01 764.39,783.86 762.74,783.63 761.09,783.32 759.43,782.93 757.78,782.45 756.13,781.89 754.48,781.26 752.83,780.54 751.18,779.73 749.53,778.85 747.88,777.89 746.23,776.84 744.58,775.71 742.92,774.5 741.27,773.21 739.62,771.84 737.97,770.39 736.32,768.85 734.67,767.23 733.02,765.53 731.37,763.75 729.72,761.89 728.06,759.95 726.41,757.92 724.76,755.81 723.11,753.62 721.46,751.33 719.81,748.97 718.16,746.51 716.51,743.96 714.86,741.32 713.21,738.59 711.55,735.76 709.9,732.84 708.25,729.82 706.6,726.7 704.95,723.48 703.3,720.16 701.65,716.74 700,713.22 698.35,709.58 696.7,705.85 695.04,702.05 693.39,698.24 691.74,694.49 690.09,690.88 688.44,687.45 686.79,684.27 685.14,681.38 683.49,678.76 681.84,676.39 680.19,674.24 678.53,672.29 676.88,670.53 675.23,668.92 673.58,667.46 671.93,666.11 670.28,664.85 668.63,663.68 666.98,662.57 665.33,661.53 663.67,660.56 662.02,659.66 660.37,658.82 658.72,658.05 657.07,657.34 655.42,656.69 653.77,656.1 652.12,655.57 650.47,655.1 648.82,654.69 647.16,654.33 645.51,654.02 643.86,653.77 642.21,653.57 640.56,653.42 638.91,653.32 637.26,653.27 635.61,653.26 633.96,653.3 632.31,653.4 630.65,653.57 629,653.81 627.35,654.15 625.7,654.6 624.05,655.16 622.4,655.85 620.75,656.68 619.1,657.67 617.45,658.83 615.8,660.16 614.14,661.68 612.49,663.4 610.84,665.34 609.19,667.51 607.54,669.91 605.89,672.57 604.24,675.49" fill="#d0d0d0"/>
<polyline points="604.24,648.87 605.89,648.55 607.54,648.26 609.19,648.01 610.84,647.79 612.49,647.6 614.14,647.44 615.8,647.31 617.45,647.21 619.1,647.13 620.75,647.09 622.4,647.08 624.05,647.09 625.7,647.13 627.35,647.19 629,647.28 630.65,647.4 632.31,647.54 633.96,647.7 635.61,647.89 637.26,648.1 638.91,648.33 640.56,648.58 642.21,648.85 643.86,649.14 645.51,649.46 647.16,649.79 648.82,650.14 650.47,650.5 652.12,650.89 653.77,651.29 655.42,651.7 657.07,652.13 658.72,652.58 660.37,653.04 662.02,653.52 663.67,654.04 665.33,654.6 666.98,655.2 668.63,655.86 670.28,656.58 671.93,657.37 673.58,658.24 675.23,659.2 676.88,660.26 678.53,661.42 680.19,662.69 681.84,664.08 683.49,665.6 685.14,667.25 686.79,669.05 688.44,671 690.09,673.08 691.74,675.27 693.39,677.52 695.04,679.81 696.7,682.1 698.35,684.37 700,686.58 701.65,688.75 703.3,690.88 704.95,692.96 706.6,694.99 708.25,696.99 709.9,698.94 711.55,700.86 713.21,702.73 714.86,704.57 716.51,706.37 718.16,708.13 719.81,709.85 721.46,711.53 723.11,713.17 724.76,714.77 726.41,716.31 728.06,717.82 729.72,719.27 731.37,720.68 733.02,722.04 734.67,723.34 736.32,724.6 737.97,725.8 739.62,726.95 741.27,728.05 742.92,729.09 744.58,730.07 746.23,730.99 747.88,731.86 749.53,732.66 751.18,733.42 752.83,734.11 754.48,734.75 756.13,735.33 757.78,735.86 759.43,736.34 761.09,736.76 762.74,737.12 764.39,737.43 766.04,737.69 767.69,737.89 769.34,738.04 770.99,738.14 772.64,738.19 774.29,738.18 775.94,738.13 777.6,738.02 779.25,737.86 780.9,737.65 782.55,737.39 784.2,737.08 785.85,736.72 787.5,736.32 789.15,735.86 790.8,735.35 792.46,734.8 794.11,734.2 795.76,733.55 797.41,732.86 799.06,732.12 800.71,731.33 802.36,730.5 804.01,729.62 805.66,728.69 807.31,727.73 808.97,726.72 810.62,725.67 812.27,724.6 813.92,723.49 815.57,722.37 817.22,721.22 818.87,720.06 820.52,718.89 822.17,717.71 823.82,716.53 825.48,715.36 827.13,714.19 828.78,713.03 830.43,711.88 832.08,710.76 833.73,709.65 835.38,708.58 837.03,707.54 838.68,706.53 840.33,705.54 841.99,704.58 843.64,703.64 845.29,702.72 846.94,701.8 848.59,700.89 850.24,699.98 851.89,699.06 853.54,698.14 855.19,697.2 856.85,696.25 858.5,695.27 860.15,694.27 861.8,693.24 863.45,692.17 865.1,691.06 866.75,689.91" fill="none" stroke="#5a5a5a" stroke-width="1.9" stroke-linejoin="round"/>
<line x1="603.87" y1="787.1" x2="603.87" y2="791.4" stroke="#000" stroke-width="1" opacity="0.7"/>
<line x1="618.19" y1="787.1" x2="618.19" y2="791.4" stroke="#000" stroke-width="1.8" opacity="1"/>
<line x1="619.62" y1="787.1" x2="619.62" y2="791.4" stroke="#000" stroke-width="1.8" opacity="1"/>
<line x1="621.05" y1="787.1" x2="621.05" y2="791.4" stroke="#000" stroke-width="1.8" opacity="1"/>
<line x1="622.48" y1="787.1" x2="622.48" y2="791.4" stroke="#000" stroke-width="1.8" opacity="1"/>
<line x1="623.91" y1="787.1" x2="623.91" y2="791.4" stroke="#000" stroke-width="1.8" opacity="1"/>
<line x1="625.35" y1="787.1" x2="625.35" y2="791.4" stroke="#000" stroke-width="1.8" opacity="1"/>
<line x1="626.78" y1="787.1" x2="626.78" y2="791.4" stroke="#000" stroke-width="1.8" opacity="1"/>
<line x1="628.21" y1="787.1" x2="628.21" y2="791.4" stroke="#000" stroke-width="1.8" opacity="1"/>
<line x1="629.64" y1="787.1" x2="629.64" y2="791.4" stroke="#000" stroke-width="1.8" opacity="1"/>
<line x1="631.07" y1="787.1" x2="631.07" y2="791.4" stroke="#000" stroke-width="1.8" opacity="1"/>
<line x1="632.51" y1="787.1" x2="632.51" y2="791.4" stroke="#000" stroke-width="1.8" opacity="1"/>
<line x1="633.94" y1="787.1" x2="633.94" y2="791.4" stroke="#000" stroke-width="1.8" opacity="1"/>
<line x1="635.37" y1="787.1" x2="635.37" y2="791.4" stroke="#000" stroke-width="1.8" opacity="1"/>
<line x1="636.8" y1="787.1" x2="636.8" y2="791.4" stroke="#000" stroke-width="1.8" opacity="1"/>
<line x1="638.23" y1="787.1" x2="638.23" y2="791.4" stroke="#000" stroke-width="1.8" opacity="1"/>
<line x1="639.67" y1="787.1" x2="639.67" y2="791.4" stroke="#000" stroke-width="1.8" opacity="1"/>
<line x1="641.1" y1="787.1" x2="641.1" y2="791.4" stroke="#000" stroke-width="1.8" opacity="1"/>
<line x1="642.53" y1="787.1" x2="642.53" y2="791.4" stroke="#000" stroke-width="1.8" opacity="1"/>
<line x1="643.96" y1="787.1" x2="643.96" y2="791.4" stroke="#000" stroke-width="1.8" opacity="1"/>
<line x1="645.39" y1="787.1" x2="645.39" y2="791.4" stroke="#000" stroke-width="1.8" opacity="1"/>
<line x1="646.83" y1="787.1" x2="646.83" y2="791.4" stroke="#000" stroke-width="1.8" opacity="1"/>
<line x1="648.26" y1="787.1" x2="648.26" y2="791.4" stroke="#000" stroke-width="1.8" opacity="1"/>
<line x1="649.69" y1="787.1" x2="649.69" y2="791.4" stroke="#000" stroke-width="1.8" opacity="1"/>
<line x1="651.12" y1="787.1" x2="651.12" y2="791.4" stroke="#000" stroke-width="1.8" opacity="1"/>
<line x1="655.18" y1="787.1" x2="655.18" y2="791.4" stroke="#000" stroke-width="1" opacity="0.75"/>
<line x1="659.47" y1="787.1" x2="659.47" y2="791.4" stroke="#000" stroke-width="1" opacity="0.75"/>
<line x1="670.69" y1="787.1" x2="670.69" y2="791.4" stroke="#000" stroke-width="1.6" opacity="0.95"/>
<line x1="673.08" y1="787.1" x2="673.08" y2="791.4" stroke="#000" stroke-width="1.6" opacity="0.95"/>
<line x1="675.47" y1="787.1" x2="675.47" y2="791.4" stroke="#000" stroke-width="1.6" opacity="0.95"/>
<line x1="677.85" y1="787.1" x2="677.85" y2="791.4" stroke="#000" stroke-width="1" opacity="0.7"/>
<line x1="687.4" y1="787.1" x2="687.4" y2="791.4" stroke="#000" stroke-width="1.6" opacity="0.95"/>
<line x1="705.3" y1="787.1" x2="705.3" y2="791.4" stroke="#000" stroke-width="1.6" opacity="0.95"/>
<line x1="867.35" y1="787.1" x2="867.35" y2="791.4" stroke="#000" stroke-width="2.2" opacity="1"/>
<rect x="593.3" y="615.5" width="284.3" height="175.9" fill="none" stroke="#555" stroke-width="1.3"/>
<line x1="593.3" y1="617" x2="593.3" y2="767.5" stroke="#333" stroke-width="1"/>
<line x1="580.5" y1="617" x2="593.3" y2="617" stroke="#333" stroke-width="1"/>
<line x1="580.5" y1="654.8" x2="593.3" y2="654.8" stroke="#333" stroke-width="1"/>
<line x1="580.5" y1="692.4" x2="593.3" y2="692.4" stroke="#333" stroke-width="1"/>
<line x1="580.5" y1="730" x2="593.3" y2="730" stroke="#333" stroke-width="1"/>
<line x1="580.5" y1="767.5" x2="593.3" y2="767.5" stroke="#333" stroke-width="1"/>
<line x1="603.9" y1="791.4" x2="861.6" y2="791.4" stroke="#333" stroke-width="1"/>
<line x1="603.9" y1="791.4" x2="603.9" y2="804" stroke="#333" stroke-width="1"/>
<line x1="655.2" y1="791.4" x2="655.2" y2="804" stroke="#333" stroke-width="1"/>
<line x1="706.5" y1="791.4" x2="706.5" y2="804" stroke="#333" stroke-width="1"/>
<line x1="758.3" y1="791.4" x2="758.3" y2="804" stroke="#333" stroke-width="1"/>
<line x1="809.6" y1="791.4" x2="809.6" y2="804" stroke="#333" stroke-width="1"/>
<line x1="861.6" y1="791.4" x2="861.6" y2="804" stroke="#333" stroke-width="1"/>
<text transform="translate(565.1,681.14) rotate(-90) scale(0.8724,1)" font-size="41.14" fill="#000">0.0</text>
<text transform="translate(565.1,801.41) rotate(-90) scale(0.9217,1)" font-size="41.14" fill="#000">-0.3</text>
<text transform="translate(521.4,852.57) rotate(-90) scale(0.9359,1)" font-size="31.14" fill="#151515">s(MHW_duration, 4.51)</text>
<text transform="translate(591.96,835.4) scale(0.9816,1)" font-size="39.27" fill="#000">0</text>
<text transform="translate(683.88,835.4) scale(1.0404,1)" font-size="39.27" fill="#000">40</text>
<text transform="translate(787.07,835.4) scale(1.0360,1)" font-size="39.27" fill="#000">80</text>
</g>
<text transform="translate(647.63,884.8) scale(1.0260,1)" font-size="28.84" fill="#1c1c1c" style="filter:blur(0.4px)">MHW duration</text>
<g style="filter:blur(0.6px)">
<rect x="60.1" y="1089" width="389.9" height="173.7" fill="none" stroke="#3a3a3a" stroke-width="1.15"/>
<line x1="51" y1="1100" x2="60.1" y2="1100" stroke="#3a3a3a" stroke-width="1.15"/>
<line x1="51" y1="1139.8" x2="60.1" y2="1139.8" stroke="#3a3a3a" stroke-width="1.15"/>
<line x1="51" y1="1179.5" x2="60.1" y2="1179.5" stroke="#3a3a3a" stroke-width="1.15"/>
<line x1="51" y1="1219" x2="60.1" y2="1219" stroke="#3a3a3a" stroke-width="1.15"/>
<line x1="51" y1="1258.7" x2="60.1" y2="1258.7" stroke="#3a3a3a" stroke-width="1.15"/>
<line x1="110.5" y1="1262.7" x2="110.5" y2="1272.8" stroke="#3a3a3a" stroke-width="1.15"/>
<line x1="183" y1="1262.7" x2="183" y2="1272.8" stroke="#3a3a3a" stroke-width="1.15"/>
<line x1="255.1" y1="1262.7" x2="255.1" y2="1272.8" stroke="#3a3a3a" stroke-width="1.15"/>
<line x1="327.5" y1="1262.7" x2="327.5" y2="1272.8" stroke="#3a3a3a" stroke-width="1.15"/>
<line x1="399.8" y1="1262.7" x2="399.8" y2="1272.8" stroke="#3a3a3a" stroke-width="1.15"/>
<line x1="110.5" y1="1223.3" x2="110.5" y2="1201.5" stroke="#5c5c5c" stroke-width="1.15" stroke-dasharray="6.5,5.5"/>
<line x1="110.5" y1="1238.5" x2="110.5" y2="1253.8" stroke="#5c5c5c" stroke-width="1.15" stroke-dasharray="6.5,5.5"/>
<line x1="96.2" y1="1201.5" x2="124.8" y2="1201.5" stroke="#5c5c5c" stroke-width="1.15"/>
<line x1="96.2" y1="1253.8" x2="124.8" y2="1253.8" stroke="#5c5c5c" stroke-width="1.15"/>
<rect x="81.9" y="1223.3" width="58.6" height="15.2" fill="#bebebe" stroke="#3a3a3a" stroke-width="1.15"/>
<line x1="81.9" y1="1231.3" x2="140.5" y2="1231.3" stroke="#000" stroke-width="3.0"/>
<ellipse cx="110.5" cy="1184.9" rx="3.0" ry="3.6" fill="none" stroke="#3a3a3a" stroke-width="1.5"/>
<ellipse cx="110.5" cy="1188" rx="3.0" ry="3.6" fill="none" stroke="#3a3a3a" stroke-width="1.5"/>
<ellipse cx="110.5" cy="1190.5" rx="3.0" ry="3.6" fill="none" stroke="#3a3a3a" stroke-width="1.5"/>
<ellipse cx="110.5" cy="1193" rx="3.0" ry="3.6" fill="none" stroke="#3a3a3a" stroke-width="1.5"/>
<ellipse cx="110.5" cy="1195.5" rx="3.0" ry="3.6" fill="none" stroke="#3a3a3a" stroke-width="1.5"/>
<ellipse cx="110.5" cy="1198" rx="3.0" ry="3.6" fill="none" stroke="#3a3a3a" stroke-width="1.5"/>
<ellipse cx="110.5" cy="1200" rx="3.0" ry="3.6" fill="none" stroke="#3a3a3a" stroke-width="1.5"/>
<line x1="183" y1="1195.3" x2="183" y2="1155.5" stroke="#5c5c5c" stroke-width="1.15" stroke-dasharray="6.5,5.5"/>
<line x1="183" y1="1222.8" x2="183" y2="1243.7" stroke="#5c5c5c" stroke-width="1.15" stroke-dasharray="6.5,5.5"/>
<line x1="168.7" y1="1155.5" x2="197.3" y2="1155.5" stroke="#5c5c5c" stroke-width="1.15"/>
<line x1="168.7" y1="1243.7" x2="197.3" y2="1243.7" stroke="#5c5c5c" stroke-width="1.15"/>
<rect x="154.3" y="1195.3" width="57.8" height="27.5" fill="#bebebe" stroke="#3a3a3a" stroke-width="1.15"/>
<line x1="154.3" y1="1211.3" x2="212.1" y2="1211.3" stroke="#000" stroke-width="3.0"/>
<ellipse cx="183" cy="1147.6" rx="3.0" ry="3.6" fill="none" stroke="#3a3a3a" stroke-width="1.5"/>
<ellipse cx="183" cy="1150.4" rx="3.0" ry="3.6" fill="none" stroke="#3a3a3a" stroke-width="1.5"/>
<line x1="255.1" y1="1226.5" x2="255.1" y2="1200.3" stroke="#5c5c5c" stroke-width="1.15" stroke-dasharray="6.5,5.5"/>
<line x1="255.1" y1="1244" x2="255.1" y2="1256.1" stroke="#5c5c5c" stroke-width="1.15" stroke-dasharray="6.5,5.5"/>
<line x1="240.8" y1="1200.3" x2="269.4" y2="1200.3" stroke="#5c5c5c" stroke-width="1.15"/>
<line x1="240.8" y1="1256.1" x2="269.4" y2="1256.1" stroke="#5c5c5c" stroke-width="1.15"/>
<rect x="225.9" y="1226.5" width="58.4" height="17.5" fill="#bebebe" stroke="#3a3a3a" stroke-width="1.15"/>
<line x1="225.9" y1="1237.2" x2="284.3" y2="1237.2" stroke="#000" stroke-width="3.0"/>
<ellipse cx="255.1" cy="1097.2" rx="3.0" ry="3.6" fill="none" stroke="#3a3a3a" stroke-width="1.5"/>
<ellipse cx="255.1" cy="1151.3" rx="3.0" ry="3.6" fill="none" stroke="#3a3a3a" stroke-width="1.5"/>
<ellipse cx="255.1" cy="1184.9" rx="3.0" ry="3.6" fill="none" stroke="#3a3a3a" stroke-width="1.5"/>
<ellipse cx="255.1" cy="1191" rx="3.0" ry="3.6" fill="none" stroke="#3a3a3a" stroke-width="1.5"/>
<ellipse cx="255.1" cy="1197.5" rx="3.0" ry="3.6" fill="none" stroke="#3a3a3a" stroke-width="1.5"/>
<line x1="327.5" y1="1210.4" x2="327.5" y2="1166.1" stroke="#5c5c5c" stroke-width="1.15" stroke-dasharray="6.5,5.5"/>
<line x1="327.5" y1="1240" x2="327.5" y2="1252" stroke="#5c5c5c" stroke-width="1.15" stroke-dasharray="6.5,5.5"/>
<line x1="313.2" y1="1166.1" x2="341.8" y2="1166.1" stroke="#5c5c5c" stroke-width="1.15"/>
<line x1="313.2" y1="1252" x2="341.8" y2="1252" stroke="#5c5c5c" stroke-width="1.15"/>
<rect x="298.2" y="1210.4" width="58.5" height="29.6" fill="#bebebe" stroke="#3a3a3a" stroke-width="1.15"/>
<line x1="298.2" y1="1228.9" x2="356.7" y2="1228.9" stroke="#000" stroke-width="3.0"/>
<ellipse cx="327.5" cy="1094.9" rx="3.0" ry="3.6" fill="none" stroke="#3a3a3a" stroke-width="1.5"/>
<ellipse cx="327.5" cy="1114" rx="3.0" ry="3.6" fill="none" stroke="#3a3a3a" stroke-width="1.5"/>
<ellipse cx="327.5" cy="1141.1" rx="3.0" ry="3.6" fill="none" stroke="#3a3a3a" stroke-width="1.5"/>
<ellipse cx="327.5" cy="1155.9" rx="3.0" ry="3.6" fill="none" stroke="#3a3a3a" stroke-width="1.5"/>
<line x1="399.8" y1="1200.8" x2="399.8" y2="1155.9" stroke="#5c5c5c" stroke-width="1.15" stroke-dasharray="6.5,5.5"/>
<line x1="399.8" y1="1233.1" x2="399.8" y2="1250.5" stroke="#5c5c5c" stroke-width="1.15" stroke-dasharray="6.5,5.5"/>
<line x1="385.5" y1="1155.9" x2="414.1" y2="1155.9" stroke="#5c5c5c" stroke-width="1.15"/>
<line x1="385.5" y1="1250.5" x2="414.1" y2="1250.5" stroke="#5c5c5c" stroke-width="1.15"/>
<rect x="371" y="1200.8" width="58.1" height="32.3" fill="#bebebe" stroke="#3a3a3a" stroke-width="1.15"/>
<line x1="371" y1="1218.4" x2="429.1" y2="1218.4" stroke="#000" stroke-width="3.0"/>
<ellipse cx="399.8" cy="1113" rx="3.0" ry="3.6" fill="none" stroke="#3a3a3a" stroke-width="1.5"/>
<ellipse cx="399.8" cy="1136.1" rx="3.0" ry="3.6" fill="none" stroke="#3a3a3a" stroke-width="1.5"/>
<ellipse cx="399.8" cy="1147.2" rx="3.0" ry="3.6" fill="none" stroke="#3a3a3a" stroke-width="1.5"/>
<text transform="translate(38.4,1178.68) rotate(-90) scale(1.1837,1)" font-size="33.43" fill="#000">0.15</text>
<text transform="translate(38.4,1294.19) rotate(-90) scale(1.1118,1)" font-size="33.43" fill="#000">0.00</text>
<text transform="translate(90.12,1304.9) scale(0.7633,1)" font-size="38.86" fill="#000" stroke="#000" stroke-width="0.55" vector-effect="non-scaling-stroke">C1</text>
<text transform="translate(162.38,1304.9) scale(0.8323,1)" font-size="38.86" fill="#000" stroke="#000" stroke-width="0.55" vector-effect="non-scaling-stroke">C2</text>
<text transform="translate(232.2,1304.9) scale(0.8228,1)" font-size="38.86" fill="#000" stroke="#000" stroke-width="0.55" vector-effect="non-scaling-stroke">CR</text>
<text transform="translate(305.26,1304.9) scale(0.8174,1)" font-size="38.86" fill="#000" stroke="#000" stroke-width="0.55" vector-effect="non-scaling-stroke">KA</text>
<text transform="translate(379.57,1304.9) scale(0.8127,1)" font-size="38.86" fill="#000" stroke="#000" stroke-width="0.55" vector-effect="non-scaling-stroke">LA</text>
</g>
<text transform="translate(229.64,1361.2) scale(1.0758,1)" font-size="28" fill="#1a1a1a" style="filter:blur(0.4px)">Site</text>
<g style="filter:blur(0.5px)">
<polygon points="604.9,1098.8 739.4,1179.6 858.8,1191.6 858.8,1252.8 739.4,1180.6 604.9,1167.4" fill="#d0d0d0"/>
<line x1="604.9" y1="1133.2" x2="858.8" y2="1222.8" stroke="#484848" stroke-width="1.9"/>
<rect x="594.6" y="1092.0" width="272.5" height="168.5" fill="none" stroke="#4a4a4a" stroke-width="1.4"/>
<line x1="594.6" y1="1112.2" x2="594.6" y2="1247.8" stroke="#333" stroke-width="1"/>
<line x1="582.5" y1="1112.2" x2="594.6" y2="1112.2" stroke="#333" stroke-width="1"/>
<line x1="582.5" y1="1134.9" x2="594.6" y2="1134.9" stroke="#333" stroke-width="1"/>
<line x1="582.5" y1="1157.5" x2="594.6" y2="1157.5" stroke="#333" stroke-width="1"/>
<line x1="582.5" y1="1180.1" x2="594.6" y2="1180.1" stroke="#333" stroke-width="1"/>
<line x1="582.5" y1="1202.7" x2="594.6" y2="1202.7" stroke="#333" stroke-width="1"/>
<line x1="582.5" y1="1225.2" x2="594.6" y2="1225.2" stroke="#333" stroke-width="1"/>
<line x1="582.5" y1="1247.8" x2="594.6" y2="1247.8" stroke="#333" stroke-width="1"/>
<line x1="604.9" y1="1260.5" x2="858.79" y2="1260.5" stroke="#222" stroke-width="1.6"/>
<line x1="604.9" y1="1254" x2="604.9" y2="1260.5" stroke="#000" stroke-width="1.4"/>
<line x1="604.9" y1="1260.5" x2="604.9" y2="1270.5" stroke="#333" stroke-width="1"/>
<line x1="633.11" y1="1254" x2="633.11" y2="1260.5" stroke="#000" stroke-width="1.4"/>
<line x1="661.32" y1="1254" x2="661.32" y2="1260.5" stroke="#000" stroke-width="1.4"/>
<line x1="661.32" y1="1260.5" x2="661.32" y2="1270.5" stroke="#333" stroke-width="1"/>
<line x1="689.53" y1="1254" x2="689.53" y2="1260.5" stroke="#000" stroke-width="1.4"/>
<line x1="717.74" y1="1254" x2="717.74" y2="1260.5" stroke="#000" stroke-width="1.4"/>
<line x1="717.74" y1="1260.5" x2="717.74" y2="1270.5" stroke="#333" stroke-width="1"/>
<line x1="745.95" y1="1254" x2="745.95" y2="1260.5" stroke="#000" stroke-width="1.4"/>
<line x1="774.16" y1="1254" x2="774.16" y2="1260.5" stroke="#000" stroke-width="1.4"/>
<line x1="774.16" y1="1260.5" x2="774.16" y2="1270.5" stroke="#333" stroke-width="1"/>
<line x1="802.37" y1="1254" x2="802.37" y2="1260.5" stroke="#000" stroke-width="1.4"/>
<line x1="830.58" y1="1254" x2="830.58" y2="1260.5" stroke="#000" stroke-width="1.4"/>
<line x1="830.58" y1="1260.5" x2="830.58" y2="1270.5" stroke="#333" stroke-width="1"/>
<line x1="858.79" y1="1254" x2="858.79" y2="1260.5" stroke="#000" stroke-width="1.4"/>
<text transform="translate(567.9,1160.74) rotate(-90) scale(0.9242,1)" font-size="40.29" fill="#000">0.015</text>
<text transform="translate(567.9,1302.25) rotate(-90) scale(0.9378,1)" font-size="40.29" fill="#000">-0.015</text>
<text transform="translate(520.6,1251.71) rotate(-90) scale(1.0727,1)" font-size="25.14" fill="#151515">s(n_MHW,1)</text>
<text transform="translate(593.26,1301.7) scale(1.0069,1)" font-size="38.28" fill="#000">0</text>
<text transform="translate(649.37,1301.7) scale(1.0622,1)" font-size="38.28" fill="#000">2</text>
<text transform="translate(706.12,1301.7) scale(0.9932,1)" font-size="39.28" fill="#000">4</text>
<text transform="translate(762.26,1301.7) scale(1.0675,1)" font-size="38.28" fill="#000">6</text>
<text transform="translate(819.08,1301.7) scale(1.0561,1)" font-size="38.28" fill="#000">8</text>
</g>
<text transform="translate(663.16,1347.8) scale(1.0372,1)" font-size="26.14" fill="#1c1c1c" style="filter:blur(0.4px)"># of MHWs</text>
<g style="filter:blur(0.6px)">
<rect x="60.8" y="1509.5" width="391.1" height="182.5" fill="none" stroke="#6a6a6a" stroke-width="1.35"/>
<line x1="51.2" y1="1533.76" x2="60.8" y2="1533.76" stroke="#6a6a6a" stroke-width="1.35"/>
<line x1="51.2" y1="1567.52" x2="60.8" y2="1567.52" stroke="#6a6a6a" stroke-width="1.35"/>
<line x1="51.2" y1="1601.28" x2="60.8" y2="1601.28" stroke="#6a6a6a" stroke-width="1.35"/>
<line x1="51.2" y1="1635.04" x2="60.8" y2="1635.04" stroke="#6a6a6a" stroke-width="1.35"/>
<line x1="51.2" y1="1668.8" x2="60.8" y2="1668.8" stroke="#6a6a6a" stroke-width="1.35"/>
<line x1="111.5" y1="1692" x2="111.5" y2="1703.1" stroke="#6a6a6a" stroke-width="1.35"/>
<line x1="183.9" y1="1692" x2="183.9" y2="1703.1" stroke="#6a6a6a" stroke-width="1.35"/>
<line x1="256.6" y1="1692" x2="256.6" y2="1703.1" stroke="#6a6a6a" stroke-width="1.35"/>
<line x1="329" y1="1692" x2="329" y2="1703.1" stroke="#6a6a6a" stroke-width="1.35"/>
<line x1="401.4" y1="1692" x2="401.4" y2="1703.1" stroke="#6a6a6a" stroke-width="1.35"/>
<line x1="111.5" y1="1618.16" x2="111.5" y2="1567.52" stroke="#707070" stroke-width="1.35" stroke-dasharray="6.5,5.5"/>
<line x1="111.5" y1="1651.92" x2="111.5" y2="1668.8" stroke="#707070" stroke-width="1.35" stroke-dasharray="6.5,5.5"/>
<line x1="96.9" y1="1567.52" x2="126.1" y2="1567.52" stroke="#707070" stroke-width="1.35"/>
<line x1="96.9" y1="1668.8" x2="126.1" y2="1668.8" stroke="#707070" stroke-width="1.35"/>
<rect x="82.4" y="1618.16" width="58.6" height="33.76" fill="#d3d3d3" stroke="#606060" stroke-width="1.35"/>
<line x1="82.4" y1="1635.04" x2="141" y2="1635.04" stroke="#000" stroke-width="3.2"/>
<line x1="183.9" y1="1601.28" x2="183.9" y2="1567.52" stroke="#707070" stroke-width="1.35" stroke-dasharray="6.5,5.5"/>
<line x1="183.9" y1="1635.04" x2="183.9" y2="1668.8" stroke="#707070" stroke-width="1.35" stroke-dasharray="6.5,5.5"/>
<line x1="169.3" y1="1567.52" x2="198.5" y2="1567.52" stroke="#707070" stroke-width="1.35"/>
<line x1="169.3" y1="1668.8" x2="198.5" y2="1668.8" stroke="#707070" stroke-width="1.35"/>
<rect x="154.9" y="1601.28" width="58.2" height="33.76" fill="#d3d3d3" stroke="#606060" stroke-width="1.35"/>
<line x1="154.9" y1="1618.16" x2="213.1" y2="1618.16" stroke="#000" stroke-width="3.2"/>
<ellipse cx="183.9" cy="1516.88" rx="3.3" ry="4.0" fill="none" stroke="#3c3c3c" stroke-width="2.0"/>
<line x1="256.6" y1="1618.16" x2="256.6" y2="1601.28" stroke="#707070" stroke-width="1.35" stroke-dasharray="6.5,5.5"/>
<line x1="256.6" y1="1635.04" x2="256.6" y2="1651.92" stroke="#707070" stroke-width="1.35" stroke-dasharray="6.5,5.5"/>
<line x1="242" y1="1601.28" x2="271.2" y2="1601.28" stroke="#707070" stroke-width="1.35"/>
<line x1="242" y1="1651.92" x2="271.2" y2="1651.92" stroke="#707070" stroke-width="1.35"/>
<rect x="227.8" y="1618.16" width="57.8" height="16.88" fill="#d3d3d3" stroke="#606060" stroke-width="1.35"/>
<line x1="227.8" y1="1634.64" x2="285.6" y2="1634.64" stroke="#000" stroke-width="3.2"/>
<ellipse cx="256.6" cy="1584.4" rx="3.3" ry="4.0" fill="none" stroke="#3c3c3c" stroke-width="2.0"/>
<ellipse cx="256.6" cy="1668.8" rx="3.3" ry="4.0" fill="none" stroke="#3c3c3c" stroke-width="2.0"/>
<line x1="329" y1="1601.28" x2="329" y2="1550.64" stroke="#707070" stroke-width="1.35" stroke-dasharray="6.5,5.5"/>
<line x1="329" y1="1635.04" x2="329" y2="1668.8" stroke="#707070" stroke-width="1.35" stroke-dasharray="6.5,5.5"/>
<line x1="314.4" y1="1550.64" x2="343.6" y2="1550.64" stroke="#707070" stroke-width="1.35"/>
<line x1="314.4" y1="1668.8" x2="343.6" y2="1668.8" stroke="#707070" stroke-width="1.35"/>
<rect x="299.8" y="1601.28" width="58.4" height="33.76" fill="#d3d3d3" stroke="#606060" stroke-width="1.35"/>
<line x1="299.8" y1="1618.16" x2="358.2" y2="1618.16" stroke="#000" stroke-width="3.2"/>
<line x1="401.4" y1="1601.28" x2="401.4" y2="1550.64" stroke="#707070" stroke-width="1.35" stroke-dasharray="6.5,5.5"/>
<line x1="401.4" y1="1635.04" x2="401.4" y2="1685.68" stroke="#707070" stroke-width="1.35" stroke-dasharray="6.5,5.5"/>
<line x1="386.8" y1="1550.64" x2="416" y2="1550.64" stroke="#707070" stroke-width="1.35"/>
<line x1="386.8" y1="1685.68" x2="416" y2="1685.68" stroke="#707070" stroke-width="1.35"/>
<rect x="372.4" y="1601.28" width="58.6" height="33.76" fill="#d3d3d3" stroke="#606060" stroke-width="1.35"/>
<line x1="372.4" y1="1618.16" x2="431" y2="1618.16" stroke="#000" stroke-width="3.2"/>
<text transform="translate(38.8,1554.91) rotate(-90) scale(1.1292,1)" font-size="33.71" fill="#111">12</text>
<text transform="translate(38.8,1612.17) rotate(-90) scale(1.0981,1)" font-size="33.71" fill="#111">8</text>
<text transform="translate(38.8,1680.93) rotate(-90) scale(1.0653,1)" font-size="34.2" fill="#111">4</text>
<text transform="translate(91.03,1734.1) scale(0.7630,1)" font-size="38.43" fill="#111" stroke="#000" stroke-width="0.55" vector-effect="non-scaling-stroke">C1</text>
<text transform="translate(162.88,1734.1) scale(0.8416,1)" font-size="38.43" fill="#111" stroke="#000" stroke-width="0.55" vector-effect="non-scaling-stroke">C2</text>
<text transform="translate(233.12,1734.1) scale(0.8242,1)" font-size="38.43" fill="#111" stroke="#000" stroke-width="0.55" vector-effect="non-scaling-stroke">CR</text>
<text transform="translate(305.53,1734.1) scale(0.8369,1)" font-size="38.43" fill="#111" stroke="#000" stroke-width="0.55" vector-effect="non-scaling-stroke">KA</text>
<text transform="translate(380.17,1734.1) scale(0.8218,1)" font-size="38.43" fill="#111" stroke="#000" stroke-width="0.55" vector-effect="non-scaling-stroke">LA</text>
</g>
<text transform="translate(233.04,1791.7) scale(1.0855,1)" font-size="27.86" fill="#1a1a1a" style="filter:blur(0.4px)">Site</text>
</svg></body></html>
